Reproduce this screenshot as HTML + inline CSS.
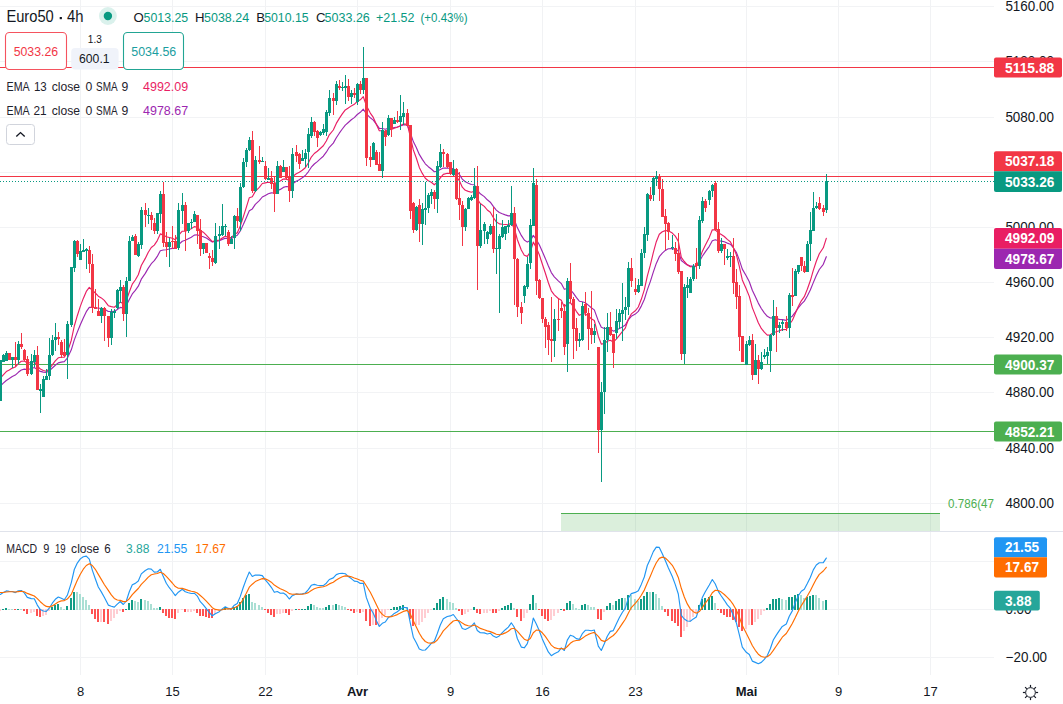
<!DOCTYPE html>
<html><head><meta charset="utf-8"><title>Euro50 4h</title>
<style>html,body{margin:0;padding:0;background:#fff;}body{width:1063px;height:704px;overflow:hidden;position:relative;font-family:"Liberation Sans",sans-serif;}</style>
</head><body>
<svg width="1063" height="704" viewBox="0 0 1063 704" style="position:absolute;left:0;top:0;display:block">
<rect x="0" y="0" width="1063" height="704" fill="#ffffff" />
<g shape-rendering="crispEdges">
<rect x="80" y="0" width="1" height="675" fill="#f1f2f4" />
<rect x="172" y="0" width="1" height="675" fill="#f1f2f4" />
<rect x="265" y="0" width="1" height="675" fill="#f1f2f4" />
<rect x="357" y="0" width="1" height="675" fill="#f1f2f4" />
<rect x="450" y="0" width="1" height="675" fill="#f1f2f4" />
<rect x="542" y="0" width="1" height="675" fill="#f1f2f4" />
<rect x="635" y="0" width="1" height="675" fill="#f1f2f4" />
<rect x="746" y="0" width="1" height="675" fill="#f1f2f4" />
<rect x="838" y="0" width="1" height="675" fill="#f1f2f4" />
<rect x="930" y="0" width="1" height="675" fill="#f1f2f4" />
<rect x="0" y="6" width="994" height="1" fill="#f2f3f5" />
<rect x="0" y="61" width="994" height="1" fill="#f2f3f5" />
<rect x="0" y="117" width="994" height="1" fill="#f2f3f5" />
<rect x="0" y="172" width="994" height="1" fill="#f2f3f5" />
<rect x="0" y="227" width="994" height="1" fill="#f2f3f5" />
<rect x="0" y="282" width="994" height="1" fill="#f2f3f5" />
<rect x="0" y="337" width="994" height="1" fill="#f2f3f5" />
<rect x="0" y="392" width="994" height="1" fill="#f2f3f5" />
<rect x="0" y="448" width="994" height="1" fill="#f2f3f5" />
<rect x="0" y="503" width="994" height="1" fill="#f2f3f5" />
<rect x="0" y="561" width="994" height="1" fill="#f2f3f5" />
<rect x="0" y="609" width="994" height="1" fill="#f2f3f5" />
<rect x="0" y="657" width="994" height="1" fill="#f2f3f5" />
</g>
<g shape-rendering="crispEdges">
<rect x="561" y="514" width="379" height="17" fill="#4caf50" fill-opacity="0.2"/>
<rect x="561" y="513" width="379" height="1" fill="#4caf50" />
<rect x="0" y="67" width="994" height="1" fill="#f23645" />
<rect x="0" y="176" width="994" height="1" fill="#f23645" />
<rect x="0" y="364" width="994" height="1" fill="#4caf50" />
<rect x="0" y="431" width="994" height="1" fill="#4caf50" />
</g>
<polyline points="0.3,386.0 3.3,383.2 6.3,380.5 9.3,378.6 12.3,376.6 15.3,375.1 18.3,372.3 21.3,370.0 24.3,369.1 27.3,369.5 31.3,368.7 34.3,367.5 37.3,369.6 40.3,371.4 43.3,372.1 46.3,372.4 49.3,370.8 52.3,368.0 55.3,365.3 58.3,362.9 61.3,362.1 64.3,361.6 67.3,358.2 71.3,349.8 74.3,339.9 77.3,332.1 80.3,324.7 83.3,318.0 86.3,311.7 89.3,307.4 92.3,307.4 95.3,307.5 98.3,308.3 101.3,308.2 104.3,308.9 108.3,311.5 111.3,311.5 114.3,311.4 117.3,309.5 120.3,307.4 123.3,308.0 126.3,305.5 129.3,299.6 132.3,293.9 135.3,290.4 138.3,286.2 141.3,279.2 145.3,273.4 148.3,268.1 151.3,263.7 154.3,260.7 157.3,256.4 160.3,250.7 163.3,250.0 166.3,249.7 169.3,249.0 172.3,248.4 175.3,248.4 178.3,244.9 182.3,241.3 185.3,240.3 188.3,238.7 191.3,237.2 194.3,235.1 197.3,234.7 200.3,236.0 203.3,236.7 206.3,238.1 209.3,239.9 212.3,241.9 215.3,241.4 219.3,240.7 222.3,239.4 225.3,238.2 228.3,238.7 231.3,238.8 234.3,236.7 237.3,235.3 240.3,230.9 243.3,224.6 246.3,217.8 249.3,210.7 252.3,208.9 255.3,204.4 259.3,200.6 262.3,197.0 265.3,195.4 268.3,193.8 271.3,192.9 274.3,193.0 277.3,190.6 280.3,189.4 283.3,187.4 286.3,186.5 289.3,186.9 292.3,183.9 296.3,181.3 299.3,179.8 302.3,177.8 305.3,175.5 308.3,171.8 311.3,167.2 314.3,164.0 317.3,161.6 320.3,158.9 323.3,156.2 326.3,152.2 329.3,147.3 333.3,143.1 336.3,137.7 339.3,133.2 342.3,129.0 345.3,125.1 348.3,122.5 351.3,119.8 354.3,117.6 357.3,114.5 360.3,112.3 363.3,109.2 366.3,113.6 370.3,117.8 373.3,120.1 376.3,124.1 379.3,128.4 382.3,128.5 385.3,129.2 388.3,128.2 391.3,128.3 394.3,127.5 397.3,127.0 400.3,126.0 403.3,124.9 407.3,124.9 410.3,132.8 413.3,141.6 416.3,147.5 419.3,154.4 422.3,159.4 425.3,163.8 428.3,166.7 431.3,169.0 434.3,171.7 437.3,171.2 440.3,169.5 443.3,168.1 447.3,168.0 450.3,168.5 453.3,168.6 456.3,171.3 459.3,174.4 462.3,179.1 465.3,181.8 468.3,183.3 471.3,184.5 474.3,184.7 477.3,190.2 480.3,193.8 484.3,196.6 487.3,199.8 490.3,202.2 493.3,206.4 496.3,210.1 499.3,212.5 502.3,213.8 505.3,214.9 508.3,215.9 511.3,215.6 514.3,219.6 517.3,227.6 521.3,235.4 524.3,240.0 527.3,242.1 530.3,240.6 533.3,235.4 536.3,239.5 539.3,244.8 542.3,251.5 545.3,258.4 548.3,265.8 551.3,272.6 554.3,276.8 558.3,280.8 561.3,283.6 564.3,289.3 567.3,288.5 570.3,289.5 573.3,293.1 576.3,297.4 579.3,301.2 582.3,301.7 585.3,302.7 588.3,305.1 591.3,307.8 594.3,309.9 598.3,320.9 601.3,327.3 604.3,328.5 607.3,328.4 610.3,329.0 613.3,331.1 616.3,330.2 619.3,328.6 622.3,326.9 625.3,325.1 628.3,319.9 631.3,316.3 635.3,314.1 638.3,311.4 641.3,306.1 644.3,299.5 647.3,289.9 650.3,281.6 653.3,272.2 656.3,263.4 659.3,256.7 662.3,253.1 665.3,250.4 668.3,248.7 672.3,248.6 675.3,249.1 678.3,251.1 681.3,260.5 684.3,262.9 687.3,264.9 690.3,266.1 693.3,266.1 696.3,266.0 699.3,261.8 702.3,256.3 705.3,251.9 709.3,246.3 712.3,240.7 715.3,239.7 718.3,240.7 721.3,241.1 724.3,241.8 727.3,243.1 730.3,244.2 733.3,247.7 736.3,252.2 739.3,259.9 742.3,269.1 746.3,276.0 749.3,281.8 752.3,290.2 755.3,296.6 758.3,303.1 761.3,308.5 764.3,312.8 767.3,316.3 770.3,318.0 773.3,317.9 776.3,318.8 779.3,319.4 782.3,319.6 786.3,320.4 789.3,318.1 792.3,316.2 795.3,312.1 798.3,307.8 801.3,304.1 804.3,301.1 807.3,296.0 810.3,290.0 813.3,282.6 816.3,275.6 819.3,269.5 823.3,264.3 826.3,256.7" fill="none" stroke="#9c27b0" stroke-width="1.15" stroke-linejoin="round" stroke-linecap="round"/>
<polyline points="0.3,378.0 3.3,374.8 6.3,371.6 9.3,370.0 12.3,368.1 15.3,367.0 18.3,363.6 21.3,361.3 24.3,361.1 27.3,363.0 31.3,362.6 34.3,361.6 37.3,365.7 40.3,369.1 43.3,370.5 46.3,371.2 49.3,369.0 52.3,364.8 55.3,360.9 58.3,357.8 61.3,357.3 64.3,357.1 67.3,352.4 71.3,340.2 74.3,326.0 77.3,315.7 80.3,306.4 83.3,298.4 86.3,291.4 89.3,287.4 92.3,290.3 95.3,293.0 98.3,296.2 101.3,297.9 104.3,300.4 108.3,305.7 111.3,306.6 114.3,307.2 117.3,304.7 120.3,302.1 123.3,303.8 126.3,300.5 129.3,292.0 132.3,284.1 135.3,280.0 138.3,274.8 141.3,265.5 145.3,258.4 148.3,252.2 151.3,247.5 154.3,245.1 157.3,240.6 160.3,233.9 163.3,235.1 166.3,236.8 169.3,237.5 172.3,238.3 175.3,239.8 178.3,235.5 182.3,231.2 185.3,231.1 188.3,229.9 191.3,228.7 194.3,226.6 197.3,227.2 200.3,230.4 203.3,232.2 206.3,235.1 209.3,238.3 212.3,241.6 215.3,240.9 219.3,240.0 222.3,238.0 225.3,236.3 228.3,237.4 231.3,237.6 234.3,234.6 237.3,232.7 240.3,226.1 243.3,216.9 246.3,207.4 249.3,197.7 252.3,196.7 255.3,191.4 259.3,187.3 262.3,183.5 265.3,182.9 268.3,182.3 271.3,182.5 274.3,184.1 277.3,181.6 280.3,181.0 283.3,179.1 286.3,178.9 289.3,180.6 292.3,176.8 296.3,173.7 299.3,172.3 302.3,170.3 305.3,167.8 308.3,163.0 311.3,157.1 314.3,153.5 317.3,151.2 320.3,148.5 323.3,145.8 326.3,141.0 329.3,134.8 333.3,130.0 336.3,123.4 339.3,118.4 342.3,113.9 345.3,109.9 348.3,108.0 351.3,105.9 354.3,104.3 357.3,101.4 360.3,99.8 363.3,96.7 366.3,105.4 370.3,113.1 373.3,117.4 376.3,124.2 379.3,130.8 382.3,130.7 385.3,131.5 388.3,129.6 391.3,129.5 394.3,128.2 397.3,127.3 400.3,125.7 403.3,123.9 407.3,124.2 410.3,136.5 413.3,149.9 416.3,158.0 419.3,167.4 422.3,173.4 425.3,178.3 428.3,180.7 431.3,182.3 434.3,184.8 437.3,182.1 440.3,177.8 443.3,174.4 447.3,173.3 450.3,173.5 453.3,172.8 456.3,176.5 459.3,180.6 462.3,187.2 465.3,190.3 468.3,191.4 471.3,192.2 474.3,191.3 477.3,199.1 480.3,203.5 484.3,206.4 487.3,210.0 490.3,212.3 493.3,217.5 496.3,221.8 499.3,223.9 502.3,224.3 505.3,224.5 508.3,224.7 511.3,223.1 514.3,228.1 517.3,239.5 521.3,250.0 524.3,255.2 527.3,256.4 530.3,252.0 533.3,242.1 536.3,247.6 539.3,254.7 542.3,264.0 545.3,273.0 548.3,282.5 551.3,290.8 554.3,294.8 558.3,298.5 561.3,300.3 564.3,307.0 567.3,303.3 570.3,302.6 573.3,306.4 576.3,311.3 579.3,315.3 582.3,314.0 585.3,313.9 588.3,316.0 591.3,318.7 594.3,320.5 598.3,336.2 601.3,344.1 604.3,343.5 607.3,341.2 610.3,340.3 613.3,342.1 616.3,339.1 619.3,335.3 622.3,331.7 625.3,328.1 628.3,319.5 631.3,313.9 635.3,310.8 638.3,307.0 641.3,299.3 644.3,289.9 647.3,276.2 650.3,265.2 653.3,252.7 656.3,241.7 659.3,234.3 662.3,231.8 665.3,230.6 668.3,230.8 672.3,233.1 675.3,236.1 678.3,241.2 681.3,257.3 684.3,261.5 687.3,264.8 690.3,266.8 693.3,266.6 696.3,266.5 699.3,259.8 702.3,251.4 705.3,245.2 709.3,237.4 712.3,229.8 715.3,229.8 718.3,232.8 721.3,234.5 724.3,236.5 727.3,239.4 730.3,241.7 733.3,247.5 736.3,254.6 739.3,266.3 742.3,279.9 746.3,289.1 749.3,296.4 752.3,307.6 755.3,315.1 758.3,322.7 761.3,328.4 764.3,332.2 767.3,335.1 770.3,335.0 773.3,332.4 776.3,331.7 779.3,330.8 782.3,329.6 786.3,329.4 789.3,324.5 792.3,320.5 795.3,313.5 798.3,306.6 801.3,300.8 804.3,296.7 807.3,289.2 810.3,280.8 813.3,270.4 816.3,261.3 819.3,253.8 823.3,247.8 826.3,238.3" fill="none" stroke="#e91e63" stroke-width="1.15" stroke-linejoin="round" stroke-linecap="round"/>
<g shape-rendering="crispEdges">
<rect x="0" y="360" width="1" height="41" fill="#089981" />
<rect x="-1" y="360" width="3" height="41" fill="#089981" />
<rect x="3" y="354" width="1" height="8" fill="#089981" />
<rect x="2" y="355" width="3" height="7" fill="#089981" />
<rect x="6" y="351" width="1" height="10" fill="#089981" />
<rect x="5" y="353" width="3" height="8" fill="#089981" />
<rect x="9" y="353" width="1" height="7" fill="#f23645" />
<rect x="8" y="353" width="3" height="7" fill="#f23645" />
<rect x="12" y="357" width="1" height="11" fill="#089981" />
<rect x="11" y="357" width="3" height="3" fill="#089981" />
<rect x="15" y="342" width="1" height="24" fill="#f23645" />
<rect x="14" y="357" width="3" height="3" fill="#f23645" />
<rect x="18" y="341" width="1" height="23" fill="#089981" />
<rect x="17" y="344" width="3" height="16" fill="#089981" />
<rect x="21" y="333" width="1" height="16" fill="#f23645" />
<rect x="20" y="344" width="3" height="3" fill="#f23645" />
<rect x="24" y="349" width="1" height="12" fill="#f23645" />
<rect x="23" y="350" width="3" height="10" fill="#f23645" />
<rect x="27" y="356" width="1" height="20" fill="#f23645" />
<rect x="26" y="359" width="3" height="15" fill="#f23645" />
<rect x="31" y="354" width="1" height="21" fill="#089981" />
<rect x="30" y="361" width="3" height="13" fill="#089981" />
<rect x="34" y="350" width="1" height="17" fill="#089981" />
<rect x="33" y="355" width="3" height="7" fill="#089981" />
<rect x="37" y="346" width="1" height="44" fill="#f23645" />
<rect x="36" y="355" width="3" height="35" fill="#f23645" />
<rect x="40" y="384" width="1" height="29" fill="#089981" />
<rect x="39" y="389" width="3" height="2" fill="#089981" />
<rect x="43" y="376" width="1" height="21" fill="#089981" />
<rect x="42" y="379" width="3" height="18" fill="#089981" />
<rect x="46" y="369" width="1" height="11" fill="#089981" />
<rect x="45" y="376" width="3" height="4" fill="#089981" />
<rect x="49" y="338" width="1" height="42" fill="#089981" />
<rect x="48" y="355" width="3" height="21" fill="#089981" />
<rect x="52" y="335" width="1" height="21" fill="#089981" />
<rect x="51" y="340" width="3" height="15" fill="#089981" />
<rect x="55" y="323" width="1" height="28" fill="#089981" />
<rect x="54" y="337" width="3" height="3" fill="#089981" />
<rect x="58" y="332" width="1" height="13" fill="#f23645" />
<rect x="57" y="337" width="3" height="2" fill="#f23645" />
<rect x="61" y="340" width="1" height="18" fill="#f23645" />
<rect x="60" y="342" width="3" height="13" fill="#f23645" />
<rect x="64" y="339" width="1" height="17" fill="#f23645" />
<rect x="63" y="352" width="3" height="4" fill="#f23645" />
<rect x="67" y="321" width="1" height="58" fill="#089981" />
<rect x="66" y="324" width="3" height="31" fill="#089981" />
<rect x="71" y="267" width="1" height="60" fill="#089981" />
<rect x="70" y="267" width="3" height="58" fill="#089981" />
<rect x="74" y="240" width="1" height="32" fill="#089981" />
<rect x="73" y="241" width="3" height="27" fill="#089981" />
<rect x="77" y="240" width="1" height="17" fill="#f23645" />
<rect x="76" y="241" width="3" height="13" fill="#f23645" />
<rect x="80" y="244" width="1" height="16" fill="#089981" />
<rect x="79" y="251" width="3" height="9" fill="#089981" />
<rect x="83" y="239" width="1" height="13" fill="#089981" />
<rect x="82" y="250" width="3" height="2" fill="#089981" />
<rect x="86" y="248" width="1" height="21" fill="#089981" />
<rect x="85" y="249" width="3" height="2" fill="#089981" />
<rect x="89" y="246" width="1" height="27" fill="#f23645" />
<rect x="88" y="250" width="3" height="14" fill="#f23645" />
<rect x="92" y="254" width="1" height="59" fill="#f23645" />
<rect x="91" y="264" width="3" height="44" fill="#f23645" />
<rect x="95" y="289" width="1" height="20" fill="#f23645" />
<rect x="94" y="307" width="3" height="2" fill="#f23645" />
<rect x="98" y="299" width="1" height="17" fill="#f23645" />
<rect x="97" y="311" width="3" height="5" fill="#f23645" />
<rect x="101" y="307" width="1" height="16" fill="#089981" />
<rect x="100" y="308" width="3" height="8" fill="#089981" />
<rect x="104" y="307" width="1" height="34" fill="#f23645" />
<rect x="103" y="308" width="3" height="8" fill="#f23645" />
<rect x="108" y="316" width="1" height="31" fill="#f23645" />
<rect x="107" y="316" width="3" height="22" fill="#f23645" />
<rect x="111" y="309" width="1" height="36" fill="#089981" />
<rect x="110" y="312" width="3" height="26" fill="#089981" />
<rect x="114" y="309" width="1" height="9" fill="#089981" />
<rect x="113" y="311" width="3" height="2" fill="#089981" />
<rect x="117" y="289" width="1" height="20" fill="#089981" />
<rect x="116" y="290" width="3" height="18" fill="#089981" />
<rect x="120" y="280" width="1" height="23" fill="#089981" />
<rect x="119" y="287" width="3" height="4" fill="#089981" />
<rect x="123" y="285" width="1" height="36" fill="#f23645" />
<rect x="122" y="287" width="3" height="27" fill="#f23645" />
<rect x="126" y="277" width="1" height="60" fill="#089981" />
<rect x="125" y="281" width="3" height="33" fill="#089981" />
<rect x="129" y="236" width="1" height="45" fill="#089981" />
<rect x="128" y="241" width="3" height="40" fill="#089981" />
<rect x="132" y="235" width="1" height="6" fill="#089981" />
<rect x="131" y="237" width="3" height="4" fill="#089981" />
<rect x="135" y="234" width="1" height="21" fill="#f23645" />
<rect x="134" y="236" width="3" height="19" fill="#f23645" />
<rect x="138" y="242" width="1" height="15" fill="#089981" />
<rect x="137" y="244" width="3" height="12" fill="#089981" />
<rect x="141" y="207" width="1" height="42" fill="#089981" />
<rect x="140" y="210" width="3" height="35" fill="#089981" />
<rect x="145" y="203" width="1" height="24" fill="#f23645" />
<rect x="144" y="210" width="3" height="5" fill="#f23645" />
<rect x="148" y="208" width="1" height="16" fill="#089981" />
<rect x="147" y="215" width="3" height="1" fill="#089981" />
<rect x="151" y="212" width="1" height="18" fill="#f23645" />
<rect x="150" y="215" width="3" height="5" fill="#f23645" />
<rect x="154" y="218" width="1" height="16" fill="#f23645" />
<rect x="153" y="223" width="3" height="8" fill="#f23645" />
<rect x="157" y="213" width="1" height="21" fill="#089981" />
<rect x="156" y="213" width="3" height="18" fill="#089981" />
<rect x="160" y="191" width="1" height="32" fill="#089981" />
<rect x="159" y="194" width="3" height="20" fill="#089981" />
<rect x="163" y="182" width="1" height="65" fill="#f23645" />
<rect x="162" y="194" width="3" height="49" fill="#f23645" />
<rect x="166" y="232" width="1" height="25" fill="#f23645" />
<rect x="165" y="242" width="3" height="5" fill="#f23645" />
<rect x="169" y="238" width="1" height="29" fill="#089981" />
<rect x="168" y="242" width="3" height="5" fill="#089981" />
<rect x="172" y="226" width="1" height="23" fill="#f23645" />
<rect x="171" y="241" width="3" height="1" fill="#f23645" />
<rect x="175" y="235" width="1" height="14" fill="#f23645" />
<rect x="174" y="241" width="3" height="8" fill="#f23645" />
<rect x="178" y="203" width="1" height="47" fill="#089981" />
<rect x="177" y="210" width="3" height="38" fill="#089981" />
<rect x="182" y="193" width="1" height="31" fill="#089981" />
<rect x="181" y="205" width="3" height="6" fill="#089981" />
<rect x="185" y="202" width="1" height="49" fill="#f23645" />
<rect x="184" y="205" width="3" height="26" fill="#f23645" />
<rect x="188" y="223" width="1" height="10" fill="#089981" />
<rect x="187" y="223" width="3" height="8" fill="#089981" />
<rect x="191" y="219" width="1" height="10" fill="#089981" />
<rect x="190" y="222" width="3" height="1" fill="#089981" />
<rect x="194" y="211" width="1" height="11" fill="#089981" />
<rect x="193" y="214" width="3" height="8" fill="#089981" />
<rect x="197" y="215" width="1" height="29" fill="#f23645" />
<rect x="196" y="215" width="3" height="16" fill="#f23645" />
<rect x="200" y="219" width="1" height="37" fill="#f23645" />
<rect x="199" y="230" width="3" height="19" fill="#f23645" />
<rect x="203" y="243" width="1" height="11" fill="#089981" />
<rect x="202" y="243" width="3" height="6" fill="#089981" />
<rect x="206" y="243" width="1" height="10" fill="#f23645" />
<rect x="205" y="243" width="3" height="10" fill="#f23645" />
<rect x="209" y="253" width="1" height="16" fill="#f23645" />
<rect x="208" y="256" width="3" height="2" fill="#f23645" />
<rect x="212" y="250" width="1" height="16" fill="#f23645" />
<rect x="211" y="258" width="3" height="4" fill="#f23645" />
<rect x="215" y="223" width="1" height="41" fill="#089981" />
<rect x="214" y="236" width="3" height="27" fill="#089981" />
<rect x="219" y="226" width="1" height="23" fill="#089981" />
<rect x="218" y="234" width="3" height="2" fill="#089981" />
<rect x="222" y="204" width="1" height="32" fill="#089981" />
<rect x="221" y="226" width="3" height="9" fill="#089981" />
<rect x="225" y="224" width="1" height="12" fill="#089981" />
<rect x="224" y="226" width="3" height="1" fill="#089981" />
<rect x="228" y="230" width="1" height="16" fill="#f23645" />
<rect x="227" y="232" width="3" height="12" fill="#f23645" />
<rect x="231" y="236" width="1" height="8" fill="#089981" />
<rect x="230" y="239" width="3" height="5" fill="#089981" />
<rect x="234" y="215" width="1" height="34" fill="#089981" />
<rect x="233" y="216" width="3" height="22" fill="#089981" />
<rect x="237" y="208" width="1" height="20" fill="#f23645" />
<rect x="236" y="216" width="3" height="5" fill="#f23645" />
<rect x="240" y="183" width="1" height="48" fill="#089981" />
<rect x="239" y="187" width="3" height="35" fill="#089981" />
<rect x="243" y="158" width="1" height="30" fill="#089981" />
<rect x="242" y="162" width="3" height="25" fill="#089981" />
<rect x="246" y="148" width="1" height="19" fill="#089981" />
<rect x="245" y="150" width="3" height="12" fill="#089981" />
<rect x="249" y="137" width="1" height="14" fill="#089981" />
<rect x="248" y="140" width="3" height="10" fill="#089981" />
<rect x="252" y="131" width="1" height="62" fill="#f23645" />
<rect x="251" y="140" width="3" height="51" fill="#f23645" />
<rect x="255" y="156" width="1" height="36" fill="#089981" />
<rect x="254" y="160" width="3" height="31" fill="#089981" />
<rect x="259" y="146" width="1" height="18" fill="#f23645" />
<rect x="258" y="160" width="3" height="2" fill="#f23645" />
<rect x="262" y="157" width="1" height="5" fill="#089981" />
<rect x="261" y="161" width="3" height="1" fill="#089981" />
<rect x="265" y="161" width="1" height="19" fill="#f23645" />
<rect x="264" y="166" width="3" height="13" fill="#f23645" />
<rect x="268" y="168" width="1" height="12" fill="#089981" />
<rect x="267" y="178" width="3" height="2" fill="#089981" />
<rect x="271" y="171" width="1" height="18" fill="#f23645" />
<rect x="270" y="178" width="3" height="6" fill="#f23645" />
<rect x="274" y="176" width="1" height="36" fill="#f23645" />
<rect x="273" y="183" width="3" height="11" fill="#f23645" />
<rect x="277" y="161" width="1" height="33" fill="#089981" />
<rect x="276" y="166" width="3" height="28" fill="#089981" />
<rect x="280" y="165" width="1" height="13" fill="#f23645" />
<rect x="279" y="166" width="3" height="12" fill="#f23645" />
<rect x="283" y="160" width="1" height="12" fill="#089981" />
<rect x="282" y="167" width="3" height="5" fill="#089981" />
<rect x="286" y="167" width="1" height="13" fill="#f23645" />
<rect x="285" y="167" width="3" height="11" fill="#f23645" />
<rect x="289" y="166" width="1" height="36" fill="#f23645" />
<rect x="288" y="176" width="3" height="15" fill="#f23645" />
<rect x="292" y="148" width="1" height="50" fill="#089981" />
<rect x="291" y="154" width="3" height="37" fill="#089981" />
<rect x="296" y="145" width="1" height="17" fill="#f23645" />
<rect x="295" y="152" width="3" height="4" fill="#f23645" />
<rect x="299" y="153" width="1" height="16" fill="#f23645" />
<rect x="298" y="154" width="3" height="10" fill="#f23645" />
<rect x="302" y="150" width="1" height="11" fill="#089981" />
<rect x="301" y="158" width="3" height="3" fill="#089981" />
<rect x="305" y="149" width="1" height="18" fill="#089981" />
<rect x="304" y="153" width="3" height="6" fill="#089981" />
<rect x="308" y="128" width="1" height="40" fill="#089981" />
<rect x="307" y="134" width="3" height="18" fill="#089981" />
<rect x="311" y="117" width="1" height="21" fill="#089981" />
<rect x="310" y="122" width="3" height="14" fill="#089981" />
<rect x="314" y="121" width="1" height="15" fill="#f23645" />
<rect x="313" y="122" width="3" height="10" fill="#f23645" />
<rect x="317" y="130" width="1" height="17" fill="#f23645" />
<rect x="316" y="131" width="3" height="7" fill="#f23645" />
<rect x="320" y="131" width="1" height="5" fill="#089981" />
<rect x="319" y="132" width="3" height="3" fill="#089981" />
<rect x="323" y="124" width="1" height="11" fill="#089981" />
<rect x="322" y="129" width="3" height="4" fill="#089981" />
<rect x="326" y="110" width="1" height="26" fill="#089981" />
<rect x="325" y="112" width="3" height="20" fill="#089981" />
<rect x="329" y="90" width="1" height="26" fill="#089981" />
<rect x="328" y="98" width="3" height="15" fill="#089981" />
<rect x="333" y="93" width="1" height="22" fill="#f23645" />
<rect x="332" y="98" width="3" height="3" fill="#f23645" />
<rect x="336" y="81" width="1" height="24" fill="#089981" />
<rect x="335" y="84" width="3" height="17" fill="#089981" />
<rect x="339" y="80" width="1" height="10" fill="#f23645" />
<rect x="338" y="86" width="3" height="2" fill="#f23645" />
<rect x="342" y="82" width="1" height="9" fill="#089981" />
<rect x="341" y="87" width="3" height="1" fill="#089981" />
<rect x="345" y="75" width="1" height="29" fill="#089981" />
<rect x="344" y="86" width="3" height="2" fill="#089981" />
<rect x="348" y="79" width="1" height="22" fill="#f23645" />
<rect x="347" y="86" width="3" height="11" fill="#f23645" />
<rect x="351" y="90" width="1" height="14" fill="#089981" />
<rect x="350" y="93" width="3" height="4" fill="#089981" />
<rect x="354" y="88" width="1" height="10" fill="#f23645" />
<rect x="353" y="93" width="3" height="2" fill="#f23645" />
<rect x="357" y="83" width="1" height="22" fill="#089981" />
<rect x="356" y="84" width="3" height="18" fill="#089981" />
<rect x="360" y="81" width="1" height="13" fill="#f23645" />
<rect x="359" y="84" width="3" height="6" fill="#f23645" />
<rect x="363" y="47" width="1" height="47" fill="#089981" />
<rect x="362" y="78" width="3" height="12" fill="#089981" />
<rect x="366" y="78" width="1" height="88" fill="#f23645" />
<rect x="365" y="78" width="3" height="80" fill="#f23645" />
<rect x="370" y="146" width="1" height="21" fill="#f23645" />
<rect x="369" y="157" width="3" height="3" fill="#f23645" />
<rect x="373" y="142" width="1" height="18" fill="#089981" />
<rect x="372" y="143" width="3" height="17" fill="#089981" />
<rect x="376" y="150" width="1" height="15" fill="#f23645" />
<rect x="375" y="152" width="3" height="13" fill="#f23645" />
<rect x="379" y="152" width="1" height="19" fill="#f23645" />
<rect x="378" y="164" width="3" height="7" fill="#f23645" />
<rect x="382" y="122" width="1" height="56" fill="#089981" />
<rect x="381" y="130" width="3" height="41" fill="#089981" />
<rect x="385" y="130" width="1" height="16" fill="#f23645" />
<rect x="384" y="131" width="3" height="6" fill="#f23645" />
<rect x="388" y="115" width="1" height="21" fill="#089981" />
<rect x="387" y="118" width="3" height="17" fill="#089981" />
<rect x="391" y="118" width="1" height="19" fill="#f23645" />
<rect x="390" y="118" width="3" height="11" fill="#f23645" />
<rect x="394" y="117" width="1" height="7" fill="#089981" />
<rect x="393" y="120" width="3" height="4" fill="#089981" />
<rect x="397" y="111" width="1" height="12" fill="#f23645" />
<rect x="396" y="120" width="3" height="2" fill="#f23645" />
<rect x="400" y="95" width="1" height="35" fill="#089981" />
<rect x="399" y="116" width="3" height="6" fill="#089981" />
<rect x="403" y="102" width="1" height="23" fill="#089981" />
<rect x="402" y="113" width="3" height="4" fill="#089981" />
<rect x="407" y="109" width="1" height="17" fill="#f23645" />
<rect x="406" y="113" width="3" height="13" fill="#f23645" />
<rect x="410" y="125" width="1" height="94" fill="#f23645" />
<rect x="409" y="125" width="3" height="86" fill="#f23645" />
<rect x="413" y="202" width="1" height="31" fill="#f23645" />
<rect x="412" y="203" width="3" height="27" fill="#f23645" />
<rect x="416" y="206" width="1" height="25" fill="#089981" />
<rect x="415" y="207" width="3" height="23" fill="#089981" />
<rect x="419" y="199" width="1" height="43" fill="#f23645" />
<rect x="418" y="205" width="3" height="19" fill="#f23645" />
<rect x="422" y="203" width="1" height="42" fill="#089981" />
<rect x="421" y="209" width="3" height="15" fill="#089981" />
<rect x="425" y="182" width="1" height="43" fill="#089981" />
<rect x="424" y="208" width="3" height="2" fill="#089981" />
<rect x="428" y="193" width="1" height="20" fill="#089981" />
<rect x="427" y="195" width="3" height="13" fill="#089981" />
<rect x="431" y="189" width="1" height="15" fill="#089981" />
<rect x="430" y="192" width="3" height="4" fill="#089981" />
<rect x="434" y="190" width="1" height="19" fill="#f23645" />
<rect x="433" y="192" width="3" height="7" fill="#f23645" />
<rect x="437" y="161" width="1" height="52" fill="#089981" />
<rect x="436" y="166" width="3" height="33" fill="#089981" />
<rect x="440" y="144" width="1" height="24" fill="#089981" />
<rect x="439" y="152" width="3" height="15" fill="#089981" />
<rect x="443" y="149" width="1" height="18" fill="#f23645" />
<rect x="442" y="152" width="3" height="2" fill="#f23645" />
<rect x="447" y="153" width="1" height="15" fill="#f23645" />
<rect x="446" y="154" width="3" height="13" fill="#f23645" />
<rect x="450" y="162" width="1" height="13" fill="#f23645" />
<rect x="449" y="162" width="3" height="12" fill="#f23645" />
<rect x="453" y="160" width="1" height="16" fill="#089981" />
<rect x="452" y="169" width="3" height="6" fill="#089981" />
<rect x="456" y="168" width="1" height="32" fill="#f23645" />
<rect x="455" y="169" width="3" height="30" fill="#f23645" />
<rect x="459" y="172" width="1" height="48" fill="#f23645" />
<rect x="458" y="198" width="3" height="7" fill="#f23645" />
<rect x="462" y="201" width="1" height="45" fill="#f23645" />
<rect x="461" y="205" width="3" height="22" fill="#f23645" />
<rect x="465" y="208" width="1" height="23" fill="#089981" />
<rect x="464" y="209" width="3" height="18" fill="#089981" />
<rect x="468" y="197" width="1" height="12" fill="#089981" />
<rect x="467" y="198" width="3" height="11" fill="#089981" />
<rect x="471" y="195" width="1" height="6" fill="#089981" />
<rect x="470" y="197" width="3" height="3" fill="#089981" />
<rect x="474" y="168" width="1" height="31" fill="#089981" />
<rect x="473" y="186" width="3" height="12" fill="#089981" />
<rect x="477" y="166" width="1" height="124" fill="#f23645" />
<rect x="476" y="186" width="3" height="60" fill="#f23645" />
<rect x="480" y="204" width="1" height="44" fill="#089981" />
<rect x="479" y="230" width="3" height="16" fill="#089981" />
<rect x="484" y="222" width="1" height="22" fill="#089981" />
<rect x="483" y="224" width="3" height="7" fill="#089981" />
<rect x="487" y="231" width="1" height="13" fill="#089981" />
<rect x="486" y="232" width="3" height="7" fill="#089981" />
<rect x="490" y="224" width="1" height="11" fill="#089981" />
<rect x="489" y="226" width="3" height="8" fill="#089981" />
<rect x="493" y="207" width="1" height="46" fill="#f23645" />
<rect x="492" y="226" width="3" height="23" fill="#f23645" />
<rect x="496" y="214" width="1" height="60" fill="#089981" />
<rect x="495" y="248" width="3" height="1" fill="#089981" />
<rect x="499" y="234" width="1" height="79" fill="#089981" />
<rect x="498" y="236" width="3" height="13" fill="#089981" />
<rect x="502" y="220" width="1" height="18" fill="#089981" />
<rect x="501" y="227" width="3" height="10" fill="#089981" />
<rect x="505" y="226" width="1" height="14" fill="#089981" />
<rect x="504" y="226" width="3" height="8" fill="#089981" />
<rect x="508" y="220" width="1" height="13" fill="#089981" />
<rect x="507" y="225" width="3" height="2" fill="#089981" />
<rect x="511" y="186" width="1" height="40" fill="#089981" />
<rect x="510" y="213" width="3" height="12" fill="#089981" />
<rect x="514" y="207" width="1" height="98" fill="#f23645" />
<rect x="513" y="213" width="3" height="46" fill="#f23645" />
<rect x="517" y="258" width="1" height="59" fill="#f23645" />
<rect x="516" y="259" width="3" height="48" fill="#f23645" />
<rect x="521" y="302" width="1" height="22" fill="#f23645" />
<rect x="520" y="307" width="3" height="6" fill="#f23645" />
<rect x="524" y="285" width="1" height="18" fill="#089981" />
<rect x="523" y="286" width="3" height="10" fill="#089981" />
<rect x="527" y="257" width="1" height="32" fill="#089981" />
<rect x="526" y="264" width="3" height="23" fill="#089981" />
<rect x="530" y="219" width="1" height="50" fill="#089981" />
<rect x="529" y="225" width="3" height="38" fill="#089981" />
<rect x="533" y="168" width="1" height="58" fill="#089981" />
<rect x="532" y="183" width="3" height="43" fill="#089981" />
<rect x="536" y="179" width="1" height="116" fill="#f23645" />
<rect x="535" y="185" width="3" height="96" fill="#f23645" />
<rect x="539" y="279" width="1" height="20" fill="#f23645" />
<rect x="538" y="280" width="3" height="18" fill="#f23645" />
<rect x="542" y="298" width="1" height="25" fill="#f23645" />
<rect x="541" y="298" width="3" height="21" fill="#f23645" />
<rect x="545" y="317" width="1" height="31" fill="#f23645" />
<rect x="544" y="319" width="3" height="8" fill="#f23645" />
<rect x="548" y="322" width="1" height="33" fill="#f23645" />
<rect x="547" y="325" width="3" height="15" fill="#f23645" />
<rect x="551" y="297" width="1" height="65" fill="#f23645" />
<rect x="550" y="339" width="3" height="2" fill="#f23645" />
<rect x="554" y="309" width="1" height="48" fill="#089981" />
<rect x="553" y="319" width="3" height="22" fill="#089981" />
<rect x="558" y="298" width="1" height="33" fill="#f23645" />
<rect x="557" y="319" width="3" height="1" fill="#f23645" />
<rect x="561" y="302" width="1" height="16" fill="#f23645" />
<rect x="560" y="308" width="3" height="3" fill="#f23645" />
<rect x="564" y="304" width="1" height="51" fill="#f23645" />
<rect x="563" y="311" width="3" height="36" fill="#f23645" />
<rect x="567" y="278" width="1" height="94" fill="#089981" />
<rect x="566" y="281" width="3" height="63" fill="#089981" />
<rect x="570" y="263" width="1" height="40" fill="#f23645" />
<rect x="569" y="281" width="3" height="18" fill="#f23645" />
<rect x="573" y="297" width="1" height="62" fill="#f23645" />
<rect x="572" y="299" width="3" height="30" fill="#f23645" />
<rect x="576" y="318" width="1" height="33" fill="#f23645" />
<rect x="575" y="328" width="3" height="13" fill="#f23645" />
<rect x="579" y="333" width="1" height="14" fill="#089981" />
<rect x="578" y="339" width="3" height="2" fill="#089981" />
<rect x="582" y="302" width="1" height="39" fill="#089981" />
<rect x="581" y="306" width="3" height="34" fill="#089981" />
<rect x="585" y="292" width="1" height="24" fill="#f23645" />
<rect x="584" y="304" width="3" height="9" fill="#f23645" />
<rect x="588" y="308" width="1" height="42" fill="#f23645" />
<rect x="587" y="313" width="3" height="16" fill="#f23645" />
<rect x="591" y="291" width="1" height="53" fill="#f23645" />
<rect x="590" y="328" width="3" height="7" fill="#f23645" />
<rect x="594" y="324" width="1" height="19" fill="#089981" />
<rect x="593" y="331" width="3" height="4" fill="#089981" />
<rect x="598" y="347" width="1" height="106" fill="#f23645" />
<rect x="597" y="347" width="3" height="83" fill="#f23645" />
<rect x="601" y="382" width="1" height="100" fill="#089981" />
<rect x="600" y="392" width="3" height="38" fill="#089981" />
<rect x="604" y="327" width="1" height="87" fill="#089981" />
<rect x="603" y="340" width="3" height="52" fill="#089981" />
<rect x="607" y="313" width="1" height="39" fill="#089981" />
<rect x="606" y="327" width="3" height="13" fill="#089981" />
<rect x="610" y="312" width="1" height="24" fill="#f23645" />
<rect x="609" y="327" width="3" height="8" fill="#f23645" />
<rect x="613" y="334" width="1" height="34" fill="#f23645" />
<rect x="612" y="334" width="3" height="19" fill="#f23645" />
<rect x="616" y="309" width="1" height="30" fill="#089981" />
<rect x="615" y="321" width="3" height="12" fill="#089981" />
<rect x="619" y="309" width="1" height="20" fill="#089981" />
<rect x="618" y="313" width="3" height="9" fill="#089981" />
<rect x="622" y="283" width="1" height="58" fill="#089981" />
<rect x="621" y="310" width="3" height="4" fill="#089981" />
<rect x="625" y="297" width="1" height="23" fill="#089981" />
<rect x="624" y="307" width="3" height="3" fill="#089981" />
<rect x="628" y="262" width="1" height="53" fill="#089981" />
<rect x="627" y="268" width="3" height="39" fill="#089981" />
<rect x="631" y="258" width="1" height="29" fill="#f23645" />
<rect x="630" y="268" width="3" height="13" fill="#f23645" />
<rect x="635" y="278" width="1" height="17" fill="#f23645" />
<rect x="634" y="289" width="3" height="3" fill="#f23645" />
<rect x="638" y="279" width="1" height="14" fill="#089981" />
<rect x="637" y="285" width="3" height="7" fill="#089981" />
<rect x="641" y="249" width="1" height="37" fill="#089981" />
<rect x="640" y="253" width="3" height="33" fill="#089981" />
<rect x="644" y="227" width="1" height="31" fill="#089981" />
<rect x="643" y="234" width="3" height="19" fill="#089981" />
<rect x="647" y="193" width="1" height="48" fill="#089981" />
<rect x="646" y="194" width="3" height="41" fill="#089981" />
<rect x="650" y="187" width="1" height="14" fill="#f23645" />
<rect x="649" y="195" width="3" height="4" fill="#f23645" />
<rect x="653" y="177" width="1" height="24" fill="#089981" />
<rect x="652" y="178" width="3" height="17" fill="#089981" />
<rect x="656" y="171" width="1" height="15" fill="#089981" />
<rect x="655" y="176" width="3" height="3" fill="#089981" />
<rect x="659" y="174" width="1" height="27" fill="#f23645" />
<rect x="658" y="176" width="3" height="13" fill="#f23645" />
<rect x="662" y="179" width="1" height="38" fill="#f23645" />
<rect x="661" y="189" width="3" height="28" fill="#f23645" />
<rect x="665" y="209" width="1" height="41" fill="#f23645" />
<rect x="664" y="216" width="3" height="8" fill="#f23645" />
<rect x="668" y="222" width="1" height="18" fill="#f23645" />
<rect x="667" y="223" width="3" height="9" fill="#f23645" />
<rect x="672" y="235" width="1" height="15" fill="#089981" />
<rect x="671" y="247" width="3" height="1" fill="#089981" />
<rect x="675" y="242" width="1" height="19" fill="#f23645" />
<rect x="674" y="248" width="3" height="6" fill="#f23645" />
<rect x="678" y="233" width="1" height="41" fill="#f23645" />
<rect x="677" y="253" width="3" height="19" fill="#f23645" />
<rect x="681" y="271" width="1" height="89" fill="#f23645" />
<rect x="680" y="271" width="3" height="83" fill="#f23645" />
<rect x="684" y="284" width="1" height="80" fill="#089981" />
<rect x="683" y="287" width="3" height="67" fill="#089981" />
<rect x="687" y="277" width="1" height="21" fill="#089981" />
<rect x="686" y="285" width="3" height="3" fill="#089981" />
<rect x="690" y="277" width="1" height="16" fill="#089981" />
<rect x="689" y="279" width="3" height="14" fill="#089981" />
<rect x="693" y="264" width="1" height="17" fill="#089981" />
<rect x="692" y="266" width="3" height="13" fill="#089981" />
<rect x="696" y="248" width="1" height="31" fill="#f23645" />
<rect x="695" y="263" width="3" height="3" fill="#f23645" />
<rect x="699" y="216" width="1" height="53" fill="#089981" />
<rect x="698" y="220" width="3" height="46" fill="#089981" />
<rect x="702" y="197" width="1" height="26" fill="#089981" />
<rect x="701" y="201" width="3" height="20" fill="#089981" />
<rect x="705" y="199" width="1" height="13" fill="#f23645" />
<rect x="704" y="201" width="3" height="7" fill="#f23645" />
<rect x="709" y="190" width="1" height="15" fill="#089981" />
<rect x="708" y="191" width="3" height="9" fill="#089981" />
<rect x="712" y="184" width="1" height="13" fill="#089981" />
<rect x="711" y="185" width="3" height="6" fill="#089981" />
<rect x="715" y="181" width="1" height="50" fill="#f23645" />
<rect x="714" y="183" width="3" height="47" fill="#f23645" />
<rect x="718" y="222" width="1" height="31" fill="#f23645" />
<rect x="717" y="229" width="3" height="22" fill="#f23645" />
<rect x="721" y="238" width="1" height="15" fill="#089981" />
<rect x="720" y="244" width="3" height="7" fill="#089981" />
<rect x="724" y="244" width="1" height="21" fill="#f23645" />
<rect x="723" y="244" width="3" height="5" fill="#f23645" />
<rect x="727" y="249" width="1" height="11" fill="#089981" />
<rect x="726" y="256" width="3" height="2" fill="#089981" />
<rect x="730" y="252" width="1" height="15" fill="#089981" />
<rect x="729" y="256" width="3" height="1" fill="#089981" />
<rect x="733" y="238" width="1" height="56" fill="#f23645" />
<rect x="732" y="256" width="3" height="27" fill="#f23645" />
<rect x="736" y="269" width="1" height="40" fill="#f23645" />
<rect x="735" y="282" width="3" height="15" fill="#f23645" />
<rect x="739" y="285" width="1" height="66" fill="#f23645" />
<rect x="738" y="296" width="3" height="41" fill="#f23645" />
<rect x="742" y="336" width="1" height="26" fill="#f23645" />
<rect x="741" y="336" width="3" height="26" fill="#f23645" />
<rect x="746" y="341" width="1" height="24" fill="#089981" />
<rect x="745" y="344" width="3" height="21" fill="#089981" />
<rect x="749" y="336" width="1" height="10" fill="#089981" />
<rect x="748" y="340" width="3" height="5" fill="#089981" />
<rect x="752" y="334" width="1" height="46" fill="#f23645" />
<rect x="751" y="340" width="3" height="35" fill="#f23645" />
<rect x="755" y="344" width="1" height="31" fill="#089981" />
<rect x="754" y="360" width="3" height="15" fill="#089981" />
<rect x="758" y="355" width="1" height="29" fill="#f23645" />
<rect x="757" y="360" width="3" height="9" fill="#f23645" />
<rect x="761" y="352" width="1" height="18" fill="#089981" />
<rect x="760" y="362" width="3" height="7" fill="#089981" />
<rect x="764" y="349" width="1" height="10" fill="#089981" />
<rect x="763" y="355" width="3" height="2" fill="#089981" />
<rect x="767" y="347" width="1" height="17" fill="#089981" />
<rect x="766" y="352" width="3" height="4" fill="#089981" />
<rect x="770" y="334" width="1" height="38" fill="#089981" />
<rect x="769" y="335" width="3" height="16" fill="#089981" />
<rect x="773" y="300" width="1" height="36" fill="#089981" />
<rect x="772" y="316" width="3" height="19" fill="#089981" />
<rect x="776" y="307" width="1" height="45" fill="#f23645" />
<rect x="775" y="316" width="3" height="12" fill="#f23645" />
<rect x="779" y="322" width="1" height="11" fill="#089981" />
<rect x="778" y="325" width="3" height="3" fill="#089981" />
<rect x="782" y="320" width="1" height="11" fill="#089981" />
<rect x="781" y="322" width="3" height="2" fill="#089981" />
<rect x="786" y="316" width="1" height="15" fill="#f23645" />
<rect x="785" y="322" width="3" height="6" fill="#f23645" />
<rect x="789" y="293" width="1" height="45" fill="#089981" />
<rect x="788" y="295" width="3" height="33" fill="#089981" />
<rect x="792" y="268" width="1" height="38" fill="#f23645" />
<rect x="791" y="295" width="3" height="2" fill="#f23645" />
<rect x="795" y="269" width="1" height="27" fill="#089981" />
<rect x="794" y="271" width="3" height="25" fill="#089981" />
<rect x="798" y="265" width="1" height="9" fill="#089981" />
<rect x="797" y="265" width="3" height="7" fill="#089981" />
<rect x="801" y="257" width="1" height="14" fill="#f23645" />
<rect x="800" y="257" width="3" height="9" fill="#f23645" />
<rect x="804" y="261" width="1" height="12" fill="#f23645" />
<rect x="803" y="266" width="3" height="6" fill="#f23645" />
<rect x="807" y="241" width="1" height="31" fill="#089981" />
<rect x="806" y="244" width="3" height="28" fill="#089981" />
<rect x="810" y="212" width="1" height="49" fill="#089981" />
<rect x="809" y="230" width="3" height="14" fill="#089981" />
<rect x="813" y="192" width="1" height="39" fill="#089981" />
<rect x="812" y="208" width="3" height="23" fill="#089981" />
<rect x="816" y="202" width="1" height="7" fill="#089981" />
<rect x="815" y="206" width="3" height="2" fill="#089981" />
<rect x="819" y="197" width="1" height="13" fill="#f23645" />
<rect x="818" y="203" width="3" height="6" fill="#f23645" />
<rect x="823" y="205" width="1" height="11" fill="#f23645" />
<rect x="822" y="208" width="3" height="4" fill="#f23645" />
<rect x="826" y="174" width="1" height="39" fill="#089981" />
<rect x="825" y="181" width="3" height="29" fill="#089981" />
</g>
<g shape-rendering="crispEdges">
<rect x="0" y="181" width="1" height="1" fill="#089981" />
<rect x="3" y="181" width="1" height="1" fill="#089981" />
<rect x="6" y="181" width="1" height="1" fill="#089981" />
<rect x="9" y="181" width="1" height="1" fill="#089981" />
<rect x="12" y="181" width="1" height="1" fill="#089981" />
<rect x="15" y="181" width="1" height="1" fill="#089981" />
<rect x="18" y="181" width="1" height="1" fill="#089981" />
<rect x="21" y="181" width="1" height="1" fill="#089981" />
<rect x="24" y="181" width="1" height="1" fill="#089981" />
<rect x="27" y="181" width="1" height="1" fill="#089981" />
<rect x="30" y="181" width="1" height="1" fill="#089981" />
<rect x="33" y="181" width="1" height="1" fill="#089981" />
<rect x="36" y="181" width="1" height="1" fill="#089981" />
<rect x="39" y="181" width="1" height="1" fill="#089981" />
<rect x="42" y="181" width="1" height="1" fill="#089981" />
<rect x="45" y="181" width="1" height="1" fill="#089981" />
<rect x="48" y="181" width="1" height="1" fill="#089981" />
<rect x="51" y="181" width="1" height="1" fill="#089981" />
<rect x="54" y="181" width="1" height="1" fill="#089981" />
<rect x="57" y="181" width="1" height="1" fill="#089981" />
<rect x="60" y="181" width="1" height="1" fill="#089981" />
<rect x="63" y="181" width="1" height="1" fill="#089981" />
<rect x="66" y="181" width="1" height="1" fill="#089981" />
<rect x="69" y="181" width="1" height="1" fill="#089981" />
<rect x="72" y="181" width="1" height="1" fill="#089981" />
<rect x="75" y="181" width="1" height="1" fill="#089981" />
<rect x="78" y="181" width="1" height="1" fill="#089981" />
<rect x="81" y="181" width="1" height="1" fill="#089981" />
<rect x="84" y="181" width="1" height="1" fill="#089981" />
<rect x="87" y="181" width="1" height="1" fill="#089981" />
<rect x="90" y="181" width="1" height="1" fill="#089981" />
<rect x="93" y="181" width="1" height="1" fill="#089981" />
<rect x="96" y="181" width="1" height="1" fill="#089981" />
<rect x="99" y="181" width="1" height="1" fill="#089981" />
<rect x="102" y="181" width="1" height="1" fill="#089981" />
<rect x="105" y="181" width="1" height="1" fill="#089981" />
<rect x="108" y="181" width="1" height="1" fill="#089981" />
<rect x="111" y="181" width="1" height="1" fill="#089981" />
<rect x="114" y="181" width="1" height="1" fill="#089981" />
<rect x="117" y="181" width="1" height="1" fill="#089981" />
<rect x="120" y="181" width="1" height="1" fill="#089981" />
<rect x="123" y="181" width="1" height="1" fill="#089981" />
<rect x="126" y="181" width="1" height="1" fill="#089981" />
<rect x="129" y="181" width="1" height="1" fill="#089981" />
<rect x="132" y="181" width="1" height="1" fill="#089981" />
<rect x="135" y="181" width="1" height="1" fill="#089981" />
<rect x="138" y="181" width="1" height="1" fill="#089981" />
<rect x="141" y="181" width="1" height="1" fill="#089981" />
<rect x="144" y="181" width="1" height="1" fill="#089981" />
<rect x="147" y="181" width="1" height="1" fill="#089981" />
<rect x="150" y="181" width="1" height="1" fill="#089981" />
<rect x="153" y="181" width="1" height="1" fill="#089981" />
<rect x="156" y="181" width="1" height="1" fill="#089981" />
<rect x="159" y="181" width="1" height="1" fill="#089981" />
<rect x="162" y="181" width="1" height="1" fill="#089981" />
<rect x="165" y="181" width="1" height="1" fill="#089981" />
<rect x="168" y="181" width="1" height="1" fill="#089981" />
<rect x="171" y="181" width="1" height="1" fill="#089981" />
<rect x="174" y="181" width="1" height="1" fill="#089981" />
<rect x="177" y="181" width="1" height="1" fill="#089981" />
<rect x="180" y="181" width="1" height="1" fill="#089981" />
<rect x="183" y="181" width="1" height="1" fill="#089981" />
<rect x="186" y="181" width="1" height="1" fill="#089981" />
<rect x="189" y="181" width="1" height="1" fill="#089981" />
<rect x="192" y="181" width="1" height="1" fill="#089981" />
<rect x="195" y="181" width="1" height="1" fill="#089981" />
<rect x="198" y="181" width="1" height="1" fill="#089981" />
<rect x="201" y="181" width="1" height="1" fill="#089981" />
<rect x="204" y="181" width="1" height="1" fill="#089981" />
<rect x="207" y="181" width="1" height="1" fill="#089981" />
<rect x="210" y="181" width="1" height="1" fill="#089981" />
<rect x="213" y="181" width="1" height="1" fill="#089981" />
<rect x="216" y="181" width="1" height="1" fill="#089981" />
<rect x="219" y="181" width="1" height="1" fill="#089981" />
<rect x="222" y="181" width="1" height="1" fill="#089981" />
<rect x="225" y="181" width="1" height="1" fill="#089981" />
<rect x="228" y="181" width="1" height="1" fill="#089981" />
<rect x="231" y="181" width="1" height="1" fill="#089981" />
<rect x="234" y="181" width="1" height="1" fill="#089981" />
<rect x="237" y="181" width="1" height="1" fill="#089981" />
<rect x="240" y="181" width="1" height="1" fill="#089981" />
<rect x="243" y="181" width="1" height="1" fill="#089981" />
<rect x="246" y="181" width="1" height="1" fill="#089981" />
<rect x="249" y="181" width="1" height="1" fill="#089981" />
<rect x="252" y="181" width="1" height="1" fill="#089981" />
<rect x="255" y="181" width="1" height="1" fill="#089981" />
<rect x="258" y="181" width="1" height="1" fill="#089981" />
<rect x="261" y="181" width="1" height="1" fill="#089981" />
<rect x="264" y="181" width="1" height="1" fill="#089981" />
<rect x="267" y="181" width="1" height="1" fill="#089981" />
<rect x="270" y="181" width="1" height="1" fill="#089981" />
<rect x="273" y="181" width="1" height="1" fill="#089981" />
<rect x="276" y="181" width="1" height="1" fill="#089981" />
<rect x="279" y="181" width="1" height="1" fill="#089981" />
<rect x="282" y="181" width="1" height="1" fill="#089981" />
<rect x="285" y="181" width="1" height="1" fill="#089981" />
<rect x="288" y="181" width="1" height="1" fill="#089981" />
<rect x="291" y="181" width="1" height="1" fill="#089981" />
<rect x="294" y="181" width="1" height="1" fill="#089981" />
<rect x="297" y="181" width="1" height="1" fill="#089981" />
<rect x="300" y="181" width="1" height="1" fill="#089981" />
<rect x="303" y="181" width="1" height="1" fill="#089981" />
<rect x="306" y="181" width="1" height="1" fill="#089981" />
<rect x="309" y="181" width="1" height="1" fill="#089981" />
<rect x="312" y="181" width="1" height="1" fill="#089981" />
<rect x="315" y="181" width="1" height="1" fill="#089981" />
<rect x="318" y="181" width="1" height="1" fill="#089981" />
<rect x="321" y="181" width="1" height="1" fill="#089981" />
<rect x="324" y="181" width="1" height="1" fill="#089981" />
<rect x="327" y="181" width="1" height="1" fill="#089981" />
<rect x="330" y="181" width="1" height="1" fill="#089981" />
<rect x="333" y="181" width="1" height="1" fill="#089981" />
<rect x="336" y="181" width="1" height="1" fill="#089981" />
<rect x="339" y="181" width="1" height="1" fill="#089981" />
<rect x="342" y="181" width="1" height="1" fill="#089981" />
<rect x="345" y="181" width="1" height="1" fill="#089981" />
<rect x="348" y="181" width="1" height="1" fill="#089981" />
<rect x="351" y="181" width="1" height="1" fill="#089981" />
<rect x="354" y="181" width="1" height="1" fill="#089981" />
<rect x="357" y="181" width="1" height="1" fill="#089981" />
<rect x="360" y="181" width="1" height="1" fill="#089981" />
<rect x="363" y="181" width="1" height="1" fill="#089981" />
<rect x="366" y="181" width="1" height="1" fill="#089981" />
<rect x="369" y="181" width="1" height="1" fill="#089981" />
<rect x="372" y="181" width="1" height="1" fill="#089981" />
<rect x="375" y="181" width="1" height="1" fill="#089981" />
<rect x="378" y="181" width="1" height="1" fill="#089981" />
<rect x="381" y="181" width="1" height="1" fill="#089981" />
<rect x="384" y="181" width="1" height="1" fill="#089981" />
<rect x="387" y="181" width="1" height="1" fill="#089981" />
<rect x="390" y="181" width="1" height="1" fill="#089981" />
<rect x="393" y="181" width="1" height="1" fill="#089981" />
<rect x="396" y="181" width="1" height="1" fill="#089981" />
<rect x="399" y="181" width="1" height="1" fill="#089981" />
<rect x="402" y="181" width="1" height="1" fill="#089981" />
<rect x="405" y="181" width="1" height="1" fill="#089981" />
<rect x="408" y="181" width="1" height="1" fill="#089981" />
<rect x="411" y="181" width="1" height="1" fill="#089981" />
<rect x="414" y="181" width="1" height="1" fill="#089981" />
<rect x="417" y="181" width="1" height="1" fill="#089981" />
<rect x="420" y="181" width="1" height="1" fill="#089981" />
<rect x="423" y="181" width="1" height="1" fill="#089981" />
<rect x="426" y="181" width="1" height="1" fill="#089981" />
<rect x="429" y="181" width="1" height="1" fill="#089981" />
<rect x="432" y="181" width="1" height="1" fill="#089981" />
<rect x="435" y="181" width="1" height="1" fill="#089981" />
<rect x="438" y="181" width="1" height="1" fill="#089981" />
<rect x="441" y="181" width="1" height="1" fill="#089981" />
<rect x="444" y="181" width="1" height="1" fill="#089981" />
<rect x="447" y="181" width="1" height="1" fill="#089981" />
<rect x="450" y="181" width="1" height="1" fill="#089981" />
<rect x="453" y="181" width="1" height="1" fill="#089981" />
<rect x="456" y="181" width="1" height="1" fill="#089981" />
<rect x="459" y="181" width="1" height="1" fill="#089981" />
<rect x="462" y="181" width="1" height="1" fill="#089981" />
<rect x="465" y="181" width="1" height="1" fill="#089981" />
<rect x="468" y="181" width="1" height="1" fill="#089981" />
<rect x="471" y="181" width="1" height="1" fill="#089981" />
<rect x="474" y="181" width="1" height="1" fill="#089981" />
<rect x="477" y="181" width="1" height="1" fill="#089981" />
<rect x="480" y="181" width="1" height="1" fill="#089981" />
<rect x="483" y="181" width="1" height="1" fill="#089981" />
<rect x="486" y="181" width="1" height="1" fill="#089981" />
<rect x="489" y="181" width="1" height="1" fill="#089981" />
<rect x="492" y="181" width="1" height="1" fill="#089981" />
<rect x="495" y="181" width="1" height="1" fill="#089981" />
<rect x="498" y="181" width="1" height="1" fill="#089981" />
<rect x="501" y="181" width="1" height="1" fill="#089981" />
<rect x="504" y="181" width="1" height="1" fill="#089981" />
<rect x="507" y="181" width="1" height="1" fill="#089981" />
<rect x="510" y="181" width="1" height="1" fill="#089981" />
<rect x="513" y="181" width="1" height="1" fill="#089981" />
<rect x="516" y="181" width="1" height="1" fill="#089981" />
<rect x="519" y="181" width="1" height="1" fill="#089981" />
<rect x="522" y="181" width="1" height="1" fill="#089981" />
<rect x="525" y="181" width="1" height="1" fill="#089981" />
<rect x="528" y="181" width="1" height="1" fill="#089981" />
<rect x="531" y="181" width="1" height="1" fill="#089981" />
<rect x="534" y="181" width="1" height="1" fill="#089981" />
<rect x="537" y="181" width="1" height="1" fill="#089981" />
<rect x="540" y="181" width="1" height="1" fill="#089981" />
<rect x="543" y="181" width="1" height="1" fill="#089981" />
<rect x="546" y="181" width="1" height="1" fill="#089981" />
<rect x="549" y="181" width="1" height="1" fill="#089981" />
<rect x="552" y="181" width="1" height="1" fill="#089981" />
<rect x="555" y="181" width="1" height="1" fill="#089981" />
<rect x="558" y="181" width="1" height="1" fill="#089981" />
<rect x="561" y="181" width="1" height="1" fill="#089981" />
<rect x="564" y="181" width="1" height="1" fill="#089981" />
<rect x="567" y="181" width="1" height="1" fill="#089981" />
<rect x="570" y="181" width="1" height="1" fill="#089981" />
<rect x="573" y="181" width="1" height="1" fill="#089981" />
<rect x="576" y="181" width="1" height="1" fill="#089981" />
<rect x="579" y="181" width="1" height="1" fill="#089981" />
<rect x="582" y="181" width="1" height="1" fill="#089981" />
<rect x="585" y="181" width="1" height="1" fill="#089981" />
<rect x="588" y="181" width="1" height="1" fill="#089981" />
<rect x="591" y="181" width="1" height="1" fill="#089981" />
<rect x="594" y="181" width="1" height="1" fill="#089981" />
<rect x="597" y="181" width="1" height="1" fill="#089981" />
<rect x="600" y="181" width="1" height="1" fill="#089981" />
<rect x="603" y="181" width="1" height="1" fill="#089981" />
<rect x="606" y="181" width="1" height="1" fill="#089981" />
<rect x="609" y="181" width="1" height="1" fill="#089981" />
<rect x="612" y="181" width="1" height="1" fill="#089981" />
<rect x="615" y="181" width="1" height="1" fill="#089981" />
<rect x="618" y="181" width="1" height="1" fill="#089981" />
<rect x="621" y="181" width="1" height="1" fill="#089981" />
<rect x="624" y="181" width="1" height="1" fill="#089981" />
<rect x="627" y="181" width="1" height="1" fill="#089981" />
<rect x="630" y="181" width="1" height="1" fill="#089981" />
<rect x="633" y="181" width="1" height="1" fill="#089981" />
<rect x="636" y="181" width="1" height="1" fill="#089981" />
<rect x="639" y="181" width="1" height="1" fill="#089981" />
<rect x="642" y="181" width="1" height="1" fill="#089981" />
<rect x="645" y="181" width="1" height="1" fill="#089981" />
<rect x="648" y="181" width="1" height="1" fill="#089981" />
<rect x="651" y="181" width="1" height="1" fill="#089981" />
<rect x="654" y="181" width="1" height="1" fill="#089981" />
<rect x="657" y="181" width="1" height="1" fill="#089981" />
<rect x="660" y="181" width="1" height="1" fill="#089981" />
<rect x="663" y="181" width="1" height="1" fill="#089981" />
<rect x="666" y="181" width="1" height="1" fill="#089981" />
<rect x="669" y="181" width="1" height="1" fill="#089981" />
<rect x="672" y="181" width="1" height="1" fill="#089981" />
<rect x="675" y="181" width="1" height="1" fill="#089981" />
<rect x="678" y="181" width="1" height="1" fill="#089981" />
<rect x="681" y="181" width="1" height="1" fill="#089981" />
<rect x="684" y="181" width="1" height="1" fill="#089981" />
<rect x="687" y="181" width="1" height="1" fill="#089981" />
<rect x="690" y="181" width="1" height="1" fill="#089981" />
<rect x="693" y="181" width="1" height="1" fill="#089981" />
<rect x="696" y="181" width="1" height="1" fill="#089981" />
<rect x="699" y="181" width="1" height="1" fill="#089981" />
<rect x="702" y="181" width="1" height="1" fill="#089981" />
<rect x="705" y="181" width="1" height="1" fill="#089981" />
<rect x="708" y="181" width="1" height="1" fill="#089981" />
<rect x="711" y="181" width="1" height="1" fill="#089981" />
<rect x="714" y="181" width="1" height="1" fill="#089981" />
<rect x="717" y="181" width="1" height="1" fill="#089981" />
<rect x="720" y="181" width="1" height="1" fill="#089981" />
<rect x="723" y="181" width="1" height="1" fill="#089981" />
<rect x="726" y="181" width="1" height="1" fill="#089981" />
<rect x="729" y="181" width="1" height="1" fill="#089981" />
<rect x="732" y="181" width="1" height="1" fill="#089981" />
<rect x="735" y="181" width="1" height="1" fill="#089981" />
<rect x="738" y="181" width="1" height="1" fill="#089981" />
<rect x="741" y="181" width="1" height="1" fill="#089981" />
<rect x="744" y="181" width="1" height="1" fill="#089981" />
<rect x="747" y="181" width="1" height="1" fill="#089981" />
<rect x="750" y="181" width="1" height="1" fill="#089981" />
<rect x="753" y="181" width="1" height="1" fill="#089981" />
<rect x="756" y="181" width="1" height="1" fill="#089981" />
<rect x="759" y="181" width="1" height="1" fill="#089981" />
<rect x="762" y="181" width="1" height="1" fill="#089981" />
<rect x="765" y="181" width="1" height="1" fill="#089981" />
<rect x="768" y="181" width="1" height="1" fill="#089981" />
<rect x="771" y="181" width="1" height="1" fill="#089981" />
<rect x="774" y="181" width="1" height="1" fill="#089981" />
<rect x="777" y="181" width="1" height="1" fill="#089981" />
<rect x="780" y="181" width="1" height="1" fill="#089981" />
<rect x="783" y="181" width="1" height="1" fill="#089981" />
<rect x="786" y="181" width="1" height="1" fill="#089981" />
<rect x="789" y="181" width="1" height="1" fill="#089981" />
<rect x="792" y="181" width="1" height="1" fill="#089981" />
<rect x="795" y="181" width="1" height="1" fill="#089981" />
<rect x="798" y="181" width="1" height="1" fill="#089981" />
<rect x="801" y="181" width="1" height="1" fill="#089981" />
<rect x="804" y="181" width="1" height="1" fill="#089981" />
<rect x="807" y="181" width="1" height="1" fill="#089981" />
<rect x="810" y="181" width="1" height="1" fill="#089981" />
<rect x="813" y="181" width="1" height="1" fill="#089981" />
<rect x="816" y="181" width="1" height="1" fill="#089981" />
<rect x="819" y="181" width="1" height="1" fill="#089981" />
<rect x="822" y="181" width="1" height="1" fill="#089981" />
<rect x="825" y="181" width="1" height="1" fill="#089981" />
<rect x="828" y="181" width="1" height="1" fill="#089981" />
<rect x="831" y="181" width="1" height="1" fill="#089981" />
<rect x="834" y="181" width="1" height="1" fill="#089981" />
<rect x="837" y="181" width="1" height="1" fill="#089981" />
<rect x="840" y="181" width="1" height="1" fill="#089981" />
<rect x="843" y="181" width="1" height="1" fill="#089981" />
<rect x="846" y="181" width="1" height="1" fill="#089981" />
<rect x="849" y="181" width="1" height="1" fill="#089981" />
<rect x="852" y="181" width="1" height="1" fill="#089981" />
<rect x="855" y="181" width="1" height="1" fill="#089981" />
<rect x="858" y="181" width="1" height="1" fill="#089981" />
<rect x="861" y="181" width="1" height="1" fill="#089981" />
<rect x="864" y="181" width="1" height="1" fill="#089981" />
<rect x="867" y="181" width="1" height="1" fill="#089981" />
<rect x="870" y="181" width="1" height="1" fill="#089981" />
<rect x="873" y="181" width="1" height="1" fill="#089981" />
<rect x="876" y="181" width="1" height="1" fill="#089981" />
<rect x="879" y="181" width="1" height="1" fill="#089981" />
<rect x="882" y="181" width="1" height="1" fill="#089981" />
<rect x="885" y="181" width="1" height="1" fill="#089981" />
<rect x="888" y="181" width="1" height="1" fill="#089981" />
<rect x="891" y="181" width="1" height="1" fill="#089981" />
<rect x="894" y="181" width="1" height="1" fill="#089981" />
<rect x="897" y="181" width="1" height="1" fill="#089981" />
<rect x="900" y="181" width="1" height="1" fill="#089981" />
<rect x="903" y="181" width="1" height="1" fill="#089981" />
<rect x="906" y="181" width="1" height="1" fill="#089981" />
<rect x="909" y="181" width="1" height="1" fill="#089981" />
<rect x="912" y="181" width="1" height="1" fill="#089981" />
<rect x="915" y="181" width="1" height="1" fill="#089981" />
<rect x="918" y="181" width="1" height="1" fill="#089981" />
<rect x="921" y="181" width="1" height="1" fill="#089981" />
<rect x="924" y="181" width="1" height="1" fill="#089981" />
<rect x="927" y="181" width="1" height="1" fill="#089981" />
<rect x="930" y="181" width="1" height="1" fill="#089981" />
<rect x="933" y="181" width="1" height="1" fill="#089981" />
<rect x="936" y="181" width="1" height="1" fill="#089981" />
<rect x="939" y="181" width="1" height="1" fill="#089981" />
<rect x="942" y="181" width="1" height="1" fill="#089981" />
<rect x="945" y="181" width="1" height="1" fill="#089981" />
<rect x="948" y="181" width="1" height="1" fill="#089981" />
<rect x="951" y="181" width="1" height="1" fill="#089981" />
<rect x="954" y="181" width="1" height="1" fill="#089981" />
<rect x="957" y="181" width="1" height="1" fill="#089981" />
<rect x="960" y="181" width="1" height="1" fill="#089981" />
<rect x="963" y="181" width="1" height="1" fill="#089981" />
<rect x="966" y="181" width="1" height="1" fill="#089981" />
<rect x="969" y="181" width="1" height="1" fill="#089981" />
<rect x="972" y="181" width="1" height="1" fill="#089981" />
<rect x="975" y="181" width="1" height="1" fill="#089981" />
<rect x="978" y="181" width="1" height="1" fill="#089981" />
<rect x="981" y="181" width="1" height="1" fill="#089981" />
<rect x="984" y="181" width="1" height="1" fill="#089981" />
<rect x="987" y="181" width="1" height="1" fill="#089981" />
<rect x="990" y="181" width="1" height="1" fill="#089981" />
<rect x="993" y="181" width="1" height="1" fill="#089981" />
</g>
<g shape-rendering="crispEdges">
<rect x="-1" y="609" width="2" height="2" fill="#ffcdd2" />
<rect x="2" y="609" width="2" height="1" fill="#129c86" />
<rect x="5" y="608" width="2" height="2" fill="#129c86" />
<rect x="8" y="609" width="2" height="1" fill="#aadfd4" />
<rect x="11" y="609" width="2" height="1" fill="#aadfd4" />
<rect x="14" y="609" width="2" height="1" fill="#ff5252" />
<rect x="17" y="609" width="2" height="1" fill="#129c86" />
<rect x="20" y="609" width="2" height="1" fill="#aadfd4" />
<rect x="23" y="609" width="2" height="2" fill="#ff5252" />
<rect x="26" y="609" width="2" height="5" fill="#ff5252" />
<rect x="30" y="609" width="2" height="4" fill="#ffcdd2" />
<rect x="33" y="609" width="2" height="3" fill="#ffcdd2" />
<rect x="36" y="609" width="2" height="7" fill="#ff5252" />
<rect x="39" y="609" width="2" height="8" fill="#ff5252" />
<rect x="42" y="609" width="2" height="7" fill="#ffcdd2" />
<rect x="45" y="609" width="2" height="6" fill="#ffcdd2" />
<rect x="48" y="609" width="2" height="2" fill="#ffcdd2" />
<rect x="51" y="607" width="2" height="3" fill="#129c86" />
<rect x="54" y="605" width="2" height="5" fill="#129c86" />
<rect x="57" y="604" width="2" height="6" fill="#129c86" />
<rect x="60" y="607" width="2" height="3" fill="#aadfd4" />
<rect x="63" y="609" width="2" height="1" fill="#aadfd4" />
<rect x="66" y="606" width="2" height="4" fill="#129c86" />
<rect x="70" y="598" width="2" height="12" fill="#129c86" />
<rect x="73" y="592" width="2" height="18" fill="#129c86" />
<rect x="76" y="592" width="2" height="18" fill="#aadfd4" />
<rect x="79" y="594" width="2" height="16" fill="#aadfd4" />
<rect x="82" y="597" width="2" height="13" fill="#aadfd4" />
<rect x="85" y="600" width="2" height="10" fill="#aadfd4" />
<rect x="88" y="605" width="2" height="5" fill="#aadfd4" />
<rect x="91" y="609" width="2" height="5" fill="#ff5252" />
<rect x="94" y="609" width="2" height="10" fill="#ff5252" />
<rect x="97" y="609" width="2" height="13" fill="#ff5252" />
<rect x="100" y="609" width="2" height="13" fill="#ffcdd2" />
<rect x="103" y="609" width="2" height="13" fill="#ff5252" />
<rect x="107" y="609" width="2" height="15" fill="#ff5252" />
<rect x="110" y="609" width="2" height="12" fill="#ffcdd2" />
<rect x="113" y="609" width="2" height="9" fill="#ffcdd2" />
<rect x="116" y="609" width="2" height="5" fill="#ffcdd2" />
<rect x="119" y="609" width="2" height="2" fill="#ffcdd2" />
<rect x="122" y="609" width="2" height="3" fill="#ff5252" />
<rect x="125" y="609" width="2" height="1" fill="#129c86" />
<rect x="128" y="603" width="2" height="7" fill="#129c86" />
<rect x="131" y="600" width="2" height="10" fill="#129c86" />
<rect x="134" y="601" width="2" height="9" fill="#aadfd4" />
<rect x="137" y="602" width="2" height="8" fill="#aadfd4" />
<rect x="140" y="599" width="2" height="11" fill="#129c86" />
<rect x="144" y="600" width="2" height="10" fill="#aadfd4" />
<rect x="147" y="601" width="2" height="9" fill="#aadfd4" />
<rect x="150" y="604" width="2" height="6" fill="#aadfd4" />
<rect x="153" y="608" width="2" height="2" fill="#aadfd4" />
<rect x="156" y="608" width="2" height="2" fill="#aadfd4" />
<rect x="159" y="607" width="2" height="3" fill="#129c86" />
<rect x="162" y="609" width="2" height="4" fill="#ff5252" />
<rect x="165" y="609" width="2" height="7" fill="#ff5252" />
<rect x="168" y="609" width="2" height="9" fill="#ff5252" />
<rect x="171" y="609" width="2" height="9" fill="#ff5252" />
<rect x="174" y="609" width="2" height="10" fill="#ff5252" />
<rect x="177" y="609" width="2" height="4" fill="#ffcdd2" />
<rect x="181" y="609" width="2" height="1" fill="#ffcdd2" />
<rect x="184" y="609" width="2" height="3" fill="#ff5252" />
<rect x="187" y="609" width="2" height="3" fill="#ffcdd2" />
<rect x="190" y="609" width="2" height="3" fill="#ffcdd2" />
<rect x="193" y="609" width="2" height="2" fill="#ffcdd2" />
<rect x="196" y="609" width="2" height="4" fill="#ff5252" />
<rect x="199" y="609" width="2" height="7" fill="#ff5252" />
<rect x="202" y="609" width="2" height="7" fill="#ff5252" />
<rect x="205" y="609" width="2" height="8" fill="#ff5252" />
<rect x="208" y="609" width="2" height="9" fill="#ff5252" />
<rect x="211" y="609" width="2" height="9" fill="#ff5252" />
<rect x="214" y="609" width="2" height="5" fill="#ffcdd2" />
<rect x="218" y="609" width="2" height="2" fill="#ffcdd2" />
<rect x="221" y="609" width="2" height="1" fill="#129c86" />
<rect x="224" y="607" width="2" height="3" fill="#129c86" />
<rect x="227" y="609" width="2" height="1" fill="#aadfd4" />
<rect x="230" y="609" width="2" height="1" fill="#ff5252" />
<rect x="233" y="607" width="2" height="3" fill="#129c86" />
<rect x="236" y="606" width="2" height="4" fill="#129c86" />
<rect x="239" y="602" width="2" height="8" fill="#129c86" />
<rect x="242" y="598" width="2" height="12" fill="#129c86" />
<rect x="245" y="595" width="2" height="15" fill="#129c86" />
<rect x="248" y="594" width="2" height="16" fill="#129c86" />
<rect x="251" y="602" width="2" height="8" fill="#aadfd4" />
<rect x="254" y="603" width="2" height="7" fill="#aadfd4" />
<rect x="258" y="605" width="2" height="5" fill="#aadfd4" />
<rect x="261" y="607" width="2" height="3" fill="#aadfd4" />
<rect x="264" y="609" width="2" height="1" fill="#ff5252" />
<rect x="267" y="609" width="2" height="4" fill="#ff5252" />
<rect x="270" y="609" width="2" height="6" fill="#ff5252" />
<rect x="273" y="609" width="2" height="8" fill="#ff5252" />
<rect x="276" y="609" width="2" height="5" fill="#ffcdd2" />
<rect x="279" y="609" width="2" height="5" fill="#ffcdd2" />
<rect x="282" y="609" width="2" height="4" fill="#ffcdd2" />
<rect x="285" y="609" width="2" height="4" fill="#ff5252" />
<rect x="288" y="609" width="2" height="6" fill="#ff5252" />
<rect x="291" y="609" width="2" height="2" fill="#ffcdd2" />
<rect x="295" y="609" width="2" height="1" fill="#129c86" />
<rect x="298" y="609" width="2" height="1" fill="#ff5252" />
<rect x="301" y="609" width="2" height="1" fill="#129c86" />
<rect x="304" y="609" width="2" height="1" fill="#129c86" />
<rect x="307" y="606" width="2" height="4" fill="#129c86" />
<rect x="310" y="604" width="2" height="6" fill="#129c86" />
<rect x="313" y="605" width="2" height="5" fill="#aadfd4" />
<rect x="316" y="607" width="2" height="3" fill="#aadfd4" />
<rect x="319" y="608" width="2" height="2" fill="#aadfd4" />
<rect x="322" y="608" width="2" height="2" fill="#aadfd4" />
<rect x="325" y="607" width="2" height="3" fill="#129c86" />
<rect x="328" y="605" width="2" height="5" fill="#129c86" />
<rect x="332" y="605" width="2" height="5" fill="#aadfd4" />
<rect x="335" y="604" width="2" height="6" fill="#129c86" />
<rect x="338" y="605" width="2" height="5" fill="#aadfd4" />
<rect x="341" y="606" width="2" height="4" fill="#aadfd4" />
<rect x="344" y="607" width="2" height="3" fill="#aadfd4" />
<rect x="347" y="609" width="2" height="1" fill="#ff5252" />
<rect x="350" y="609" width="2" height="2" fill="#ff5252" />
<rect x="353" y="609" width="2" height="4" fill="#ff5252" />
<rect x="356" y="609" width="2" height="3" fill="#ffcdd2" />
<rect x="359" y="609" width="2" height="4" fill="#ff5252" />
<rect x="362" y="609" width="2" height="3" fill="#ffcdd2" />
<rect x="365" y="609" width="2" height="12" fill="#ff5252" />
<rect x="369" y="609" width="2" height="17" fill="#ff5252" />
<rect x="372" y="609" width="2" height="16" fill="#ffcdd2" />
<rect x="375" y="609" width="2" height="16" fill="#ff5252" />
<rect x="378" y="609" width="2" height="16" fill="#ffcdd2" />
<rect x="381" y="609" width="2" height="9" fill="#ffcdd2" />
<rect x="384" y="609" width="2" height="6" fill="#ffcdd2" />
<rect x="387" y="609" width="2" height="1" fill="#ffcdd2" />
<rect x="390" y="609" width="2" height="1" fill="#129c86" />
<rect x="393" y="607" width="2" height="3" fill="#129c86" />
<rect x="396" y="607" width="2" height="3" fill="#129c86" />
<rect x="399" y="606" width="2" height="4" fill="#129c86" />
<rect x="402" y="605" width="2" height="5" fill="#129c86" />
<rect x="406" y="607" width="2" height="3" fill="#aadfd4" />
<rect x="409" y="609" width="2" height="10" fill="#ff5252" />
<rect x="412" y="609" width="2" height="17" fill="#ff5252" />
<rect x="415" y="609" width="2" height="16" fill="#ffcdd2" />
<rect x="418" y="609" width="2" height="16" fill="#ffcdd2" />
<rect x="421" y="609" width="2" height="13" fill="#ffcdd2" />
<rect x="424" y="609" width="2" height="9" fill="#ffcdd2" />
<rect x="427" y="609" width="2" height="4" fill="#ffcdd2" />
<rect x="430" y="609" width="2" height="1" fill="#ffcdd2" />
<rect x="433" y="608" width="2" height="2" fill="#129c86" />
<rect x="436" y="603" width="2" height="7" fill="#129c86" />
<rect x="439" y="599" width="2" height="11" fill="#129c86" />
<rect x="442" y="597" width="2" height="13" fill="#129c86" />
<rect x="446" y="599" width="2" height="11" fill="#aadfd4" />
<rect x="449" y="602" width="2" height="8" fill="#aadfd4" />
<rect x="452" y="603" width="2" height="7" fill="#aadfd4" />
<rect x="455" y="608" width="2" height="2" fill="#aadfd4" />
<rect x="458" y="609" width="2" height="2" fill="#ff5252" />
<rect x="461" y="609" width="2" height="6" fill="#ff5252" />
<rect x="464" y="609" width="2" height="5" fill="#ffcdd2" />
<rect x="467" y="609" width="2" height="3" fill="#ffcdd2" />
<rect x="470" y="609" width="2" height="1" fill="#ffcdd2" />
<rect x="473" y="607" width="2" height="3" fill="#129c86" />
<rect x="476" y="609" width="2" height="4" fill="#ff5252" />
<rect x="479" y="609" width="2" height="5" fill="#ff5252" />
<rect x="483" y="609" width="2" height="4" fill="#ffcdd2" />
<rect x="486" y="609" width="2" height="4" fill="#ffcdd2" />
<rect x="489" y="609" width="2" height="2" fill="#ffcdd2" />
<rect x="492" y="609" width="2" height="4" fill="#ff5252" />
<rect x="495" y="609" width="2" height="4" fill="#ff5252" />
<rect x="498" y="609" width="2" height="2" fill="#ffcdd2" />
<rect x="501" y="608" width="2" height="2" fill="#129c86" />
<rect x="504" y="606" width="2" height="4" fill="#129c86" />
<rect x="507" y="605" width="2" height="5" fill="#129c86" />
<rect x="510" y="603" width="2" height="7" fill="#129c86" />
<rect x="513" y="608" width="2" height="2" fill="#aadfd4" />
<rect x="516" y="609" width="2" height="8" fill="#ff5252" />
<rect x="520" y="609" width="2" height="12" fill="#ff5252" />
<rect x="523" y="609" width="2" height="9" fill="#ffcdd2" />
<rect x="526" y="609" width="2" height="4" fill="#ffcdd2" />
<rect x="529" y="604" width="2" height="6" fill="#129c86" />
<rect x="532" y="595" width="2" height="15" fill="#129c86" />
<rect x="535" y="603" width="2" height="7" fill="#aadfd4" />
<rect x="538" y="609" width="2" height="1" fill="#ff5252" />
<rect x="541" y="609" width="2" height="7" fill="#ff5252" />
<rect x="544" y="609" width="2" height="10" fill="#ff5252" />
<rect x="547" y="609" width="2" height="12" fill="#ff5252" />
<rect x="550" y="609" width="2" height="11" fill="#ffcdd2" />
<rect x="553" y="609" width="2" height="7" fill="#ffcdd2" />
<rect x="557" y="609" width="2" height="4" fill="#ffcdd2" />
<rect x="560" y="609" width="2" height="1" fill="#129c86" />
<rect x="563" y="609" width="2" height="2" fill="#ff5252" />
<rect x="566" y="603" width="2" height="7" fill="#129c86" />
<rect x="569" y="601" width="2" height="9" fill="#129c86" />
<rect x="572" y="604" width="2" height="6" fill="#aadfd4" />
<rect x="575" y="608" width="2" height="2" fill="#aadfd4" />
<rect x="578" y="609" width="2" height="1" fill="#aadfd4" />
<rect x="581" y="605" width="2" height="5" fill="#129c86" />
<rect x="584" y="604" width="2" height="6" fill="#129c86" />
<rect x="587" y="605" width="2" height="5" fill="#aadfd4" />
<rect x="590" y="607" width="2" height="3" fill="#aadfd4" />
<rect x="593" y="607" width="2" height="3" fill="#aadfd4" />
<rect x="597" y="609" width="2" height="10" fill="#ff5252" />
<rect x="600" y="609" width="2" height="11" fill="#ff5252" />
<rect x="603" y="609" width="2" height="3" fill="#ffcdd2" />
<rect x="606" y="606" width="2" height="4" fill="#129c86" />
<rect x="609" y="603" width="2" height="7" fill="#129c86" />
<rect x="612" y="605" width="2" height="5" fill="#aadfd4" />
<rect x="615" y="601" width="2" height="9" fill="#129c86" />
<rect x="618" y="599" width="2" height="11" fill="#129c86" />
<rect x="621" y="598" width="2" height="12" fill="#129c86" />
<rect x="624" y="598" width="2" height="12" fill="#aadfd4" />
<rect x="627" y="595" width="2" height="15" fill="#129c86" />
<rect x="630" y="595" width="2" height="15" fill="#aadfd4" />
<rect x="634" y="599" width="2" height="11" fill="#aadfd4" />
<rect x="637" y="601" width="2" height="9" fill="#aadfd4" />
<rect x="640" y="599" width="2" height="11" fill="#129c86" />
<rect x="643" y="596" width="2" height="14" fill="#129c86" />
<rect x="646" y="592" width="2" height="18" fill="#129c86" />
<rect x="649" y="592" width="2" height="18" fill="#aadfd4" />
<rect x="652" y="592" width="2" height="18" fill="#129c86" />
<rect x="655" y="594" width="2" height="16" fill="#aadfd4" />
<rect x="658" y="598" width="2" height="12" fill="#aadfd4" />
<rect x="661" y="606" width="2" height="4" fill="#aadfd4" />
<rect x="664" y="609" width="2" height="3" fill="#ff5252" />
<rect x="667" y="609" width="2" height="7" fill="#ff5252" />
<rect x="671" y="609" width="2" height="12" fill="#ff5252" />
<rect x="674" y="609" width="2" height="14" fill="#ff5252" />
<rect x="677" y="609" width="2" height="17" fill="#ff5252" />
<rect x="680" y="609" width="2" height="28" fill="#ff5252" />
<rect x="683" y="609" width="2" height="22" fill="#ffcdd2" />
<rect x="686" y="609" width="2" height="18" fill="#ffcdd2" />
<rect x="689" y="609" width="2" height="13" fill="#ffcdd2" />
<rect x="692" y="609" width="2" height="8" fill="#ffcdd2" />
<rect x="695" y="609" width="2" height="4" fill="#ffcdd2" />
<rect x="698" y="605" width="2" height="5" fill="#129c86" />
<rect x="701" y="599" width="2" height="11" fill="#129c86" />
<rect x="704" y="598" width="2" height="12" fill="#129c86" />
<rect x="708" y="597" width="2" height="13" fill="#129c86" />
<rect x="711" y="596" width="2" height="14" fill="#129c86" />
<rect x="714" y="603" width="2" height="7" fill="#aadfd4" />
<rect x="717" y="609" width="2" height="1" fill="#ff5252" />
<rect x="720" y="609" width="2" height="4" fill="#ff5252" />
<rect x="723" y="609" width="2" height="6" fill="#ff5252" />
<rect x="726" y="609" width="2" height="8" fill="#ff5252" />
<rect x="729" y="609" width="2" height="8" fill="#ff5252" />
<rect x="732" y="609" width="2" height="11" fill="#ff5252" />
<rect x="735" y="609" width="2" height="13" fill="#ff5252" />
<rect x="738" y="609" width="2" height="18" fill="#ff5252" />
<rect x="741" y="609" width="2" height="22" fill="#ff5252" />
<rect x="745" y="609" width="2" height="20" fill="#ffcdd2" />
<rect x="748" y="609" width="2" height="16" fill="#ffcdd2" />
<rect x="751" y="609" width="2" height="16" fill="#ff5252" />
<rect x="754" y="609" width="2" height="13" fill="#ffcdd2" />
<rect x="757" y="609" width="2" height="10" fill="#ffcdd2" />
<rect x="760" y="609" width="2" height="6" fill="#ffcdd2" />
<rect x="763" y="609" width="2" height="2" fill="#ffcdd2" />
<rect x="766" y="608" width="2" height="2" fill="#129c86" />
<rect x="769" y="604" width="2" height="6" fill="#129c86" />
<rect x="772" y="599" width="2" height="11" fill="#129c86" />
<rect x="775" y="599" width="2" height="11" fill="#129c86" />
<rect x="778" y="598" width="2" height="12" fill="#129c86" />
<rect x="781" y="599" width="2" height="11" fill="#aadfd4" />
<rect x="785" y="600" width="2" height="10" fill="#aadfd4" />
<rect x="788" y="597" width="2" height="13" fill="#129c86" />
<rect x="791" y="597" width="2" height="13" fill="#129c86" />
<rect x="794" y="595" width="2" height="15" fill="#129c86" />
<rect x="797" y="594" width="2" height="16" fill="#129c86" />
<rect x="800" y="595" width="2" height="15" fill="#aadfd4" />
<rect x="803" y="598" width="2" height="12" fill="#aadfd4" />
<rect x="806" y="597" width="2" height="13" fill="#129c86" />
<rect x="809" y="596" width="2" height="14" fill="#129c86" />
<rect x="812" y="595" width="2" height="15" fill="#129c86" />
<rect x="815" y="595" width="2" height="15" fill="#aadfd4" />
<rect x="818" y="598" width="2" height="12" fill="#aadfd4" />
<rect x="822" y="601" width="2" height="9" fill="#aadfd4" />
<rect x="825" y="600" width="2" height="10" fill="#129c86" />
</g>
<polyline points="0.3,594.4 3.3,592.4 6.3,590.9 9.3,591.4 12.3,591.5 15.3,592.6 18.3,590.8 21.3,590.5 24.3,592.9 27.3,597.4 31.3,598.6 34.3,598.7 37.3,605.1 40.3,609.6 43.3,611.0 46.3,611.4 49.3,608.2 52.3,603.2 55.3,599.3 58.3,597.0 61.3,598.3 64.3,599.7 67.3,595.3 71.3,582.6 74.3,569.5 77.3,563.1 80.3,558.9 83.3,556.8 86.3,556.1 89.3,559.2 92.3,570.1 95.3,578.8 98.3,587.0 101.3,591.9 104.3,597.2 108.3,605.1 111.3,606.3 114.3,607.1 117.3,604.1 120.3,601.5 123.3,604.5 126.3,601.0 129.3,591.8 132.3,584.7 135.3,583.4 138.3,581.0 141.3,573.9 145.3,570.5 148.3,568.8 151.3,569.1 154.3,572.1 157.3,572.0 160.3,569.3 163.3,576.6 166.3,583.2 169.3,587.7 172.3,591.5 175.3,595.6 178.3,592.2 182.3,589.2 185.3,591.8 188.3,592.7 191.3,593.5 194.3,593.2 197.3,596.1 200.3,601.7 203.3,604.8 206.3,608.7 209.3,612.5 212.3,615.8 215.3,613.7 219.3,611.7 222.3,608.9 225.3,606.8 228.3,608.4 231.3,608.9 234.3,605.2 237.3,603.5 240.3,596.4 243.3,587.3 246.3,579.1 249.3,572.0 252.3,576.5 255.3,575.1 259.3,575.1 262.3,575.6 265.3,579.9 268.3,583.3 271.3,587.3 274.3,592.3 277.3,591.5 280.3,593.3 283.3,593.1 286.3,595.1 289.3,599.0 292.3,595.7 296.3,593.9 299.3,594.3 302.3,593.9 305.3,593.0 308.3,589.6 311.3,585.3 314.3,584.4 317.3,585.3 320.3,585.5 323.3,585.6 326.3,583.2 329.3,579.5 333.3,577.9 336.3,574.6 339.3,573.5 342.3,573.3 345.3,573.7 348.3,576.6 351.3,578.6 354.3,581.1 357.3,581.5 360.3,583.4 363.3,583.2 366.3,597.4 370.3,608.2 373.3,613.2 376.3,620.4 379.3,626.4 382.3,623.3 385.3,622.0 388.3,617.6 391.3,616.1 394.3,613.4 397.3,611.7 400.3,609.4 403.3,607.3 407.3,607.9 410.3,623.2 413.3,637.2 416.3,642.7 419.3,649.0 422.3,650.2 425.3,650.0 428.3,646.8 431.3,643.3 434.3,641.3 437.3,633.5 440.3,625.0 443.3,618.8 447.3,616.5 450.3,615.9 453.3,614.5 456.3,618.5 459.3,622.3 462.3,628.5 465.3,629.5 468.3,628.0 471.3,626.3 474.3,622.9 477.3,630.5 480.3,632.8 484.3,632.9 487.3,634.0 490.3,633.2 493.3,636.1 496.3,637.5 499.3,635.9 502.3,632.7 505.3,629.7 508.3,627.1 511.3,622.8 514.3,627.2 517.3,638.5 521.3,647.1 524.3,647.8 527.3,643.7 530.3,633.4 533.3,618.1 536.3,623.9 539.3,630.7 542.3,638.9 545.3,645.6 548.3,651.9 551.3,655.7 554.3,653.8 558.3,651.8 561.3,647.9 564.3,650.5 567.3,640.1 570.3,635.2 573.3,636.3 576.3,638.6 579.3,639.4 582.3,633.7 585.3,630.3 588.3,630.2 591.3,630.7 594.3,630.0 598.3,646.2 601.3,650.5 604.3,643.8 607.3,636.2 610.3,631.4 613.3,630.6 616.3,624.1 619.3,617.8 622.3,612.5 625.3,608.1 628.3,598.2 631.3,593.6 635.3,592.4 638.3,590.7 641.3,584.4 644.3,577.0 647.3,565.5 650.3,558.9 653.3,551.6 656.3,547.1 659.3,547.4 662.3,553.7 665.3,560.5 668.3,567.8 672.3,576.5 675.3,584.6 678.3,594.0 681.3,615.3 684.3,619.0 687.3,621.0 690.3,621.2 693.3,618.9 696.3,617.0 699.3,607.6 702.3,597.6 705.3,591.8 709.3,585.0 712.3,579.5 715.3,584.0 718.3,591.4 721.3,596.0 724.3,600.3 727.3,604.9 730.3,608.2 733.3,615.3 736.3,622.7 739.3,634.7 742.3,647.2 746.3,652.3 749.3,654.5 752.3,661.1 755.3,662.4 758.3,663.7 761.3,662.4 764.3,659.3 767.3,655.5 770.3,648.8 773.3,640.0 776.3,635.1 779.3,630.6 782.3,626.4 786.3,624.0 789.3,616.3 792.3,610.9 795.3,602.6 798.3,595.7 801.3,591.2 804.3,589.3 807.3,583.6 810.3,577.5 813.3,569.9 816.3,565.0 819.3,562.7 823.3,562.6 826.3,558.1" fill="none" stroke="#2196f3" stroke-width="1.15" stroke-linejoin="round" stroke-linecap="round"/>
<polyline points="0.3,592.5 3.3,592.5 6.3,592.0 9.3,591.8 12.3,591.7 15.3,592.0 18.3,591.6 21.3,591.3 24.3,591.8 27.3,593.4 31.3,594.9 34.3,596.0 37.3,598.6 40.3,601.7 43.3,604.4 46.3,606.4 49.3,606.9 52.3,605.9 55.3,604.0 58.3,602.0 61.3,600.9 64.3,600.6 67.3,599.1 71.3,594.4 74.3,587.2 77.3,580.3 80.3,574.2 83.3,569.2 86.3,565.5 89.3,563.7 92.3,565.5 95.3,569.3 98.3,574.4 101.3,579.4 104.3,584.5 108.3,590.4 111.3,594.9 114.3,598.4 117.3,600.0 120.3,600.4 123.3,601.6 126.3,601.4 129.3,598.7 132.3,594.7 135.3,591.5 138.3,588.5 141.3,584.3 145.3,580.4 148.3,577.1 151.3,574.8 154.3,574.0 157.3,573.5 160.3,572.3 163.3,573.5 166.3,576.3 169.3,579.6 172.3,583.0 175.3,586.6 178.3,588.2 182.3,588.4 185.3,589.4 188.3,590.4 191.3,591.3 194.3,591.8 197.3,593.0 200.3,595.5 203.3,598.1 206.3,601.2 209.3,604.4 212.3,607.7 215.3,609.4 219.3,610.1 222.3,609.7 225.3,608.9 228.3,608.8 231.3,608.8 234.3,607.8 237.3,606.5 240.3,603.7 243.3,599.0 246.3,593.3 249.3,587.2 252.3,584.2 255.3,581.6 259.3,579.7 262.3,578.6 265.3,578.9 268.3,580.2 271.3,582.2 274.3,585.1 277.3,586.9 280.3,588.7 283.3,590.0 286.3,591.4 289.3,593.6 292.3,594.2 296.3,594.1 299.3,594.2 302.3,594.1 305.3,593.8 308.3,592.6 311.3,590.5 314.3,588.7 317.3,587.8 320.3,587.1 323.3,586.7 326.3,585.7 329.3,583.9 333.3,582.2 336.3,580.0 339.3,578.2 342.3,576.8 345.3,575.9 348.3,576.1 351.3,576.8 354.3,578.0 357.3,579.0 360.3,580.3 363.3,581.1 366.3,585.8 370.3,592.2 373.3,598.2 376.3,604.5 379.3,610.8 382.3,614.4 385.3,616.5 388.3,616.9 391.3,616.6 394.3,615.7 397.3,614.6 400.3,613.1 403.3,611.4 407.3,610.4 410.3,614.1 413.3,620.7 416.3,627.0 419.3,633.3 422.3,638.1 425.3,641.5 428.3,643.0 431.3,643.1 434.3,642.6 437.3,640.0 440.3,635.7 443.3,630.9 447.3,626.8 450.3,623.7 453.3,621.0 456.3,620.3 459.3,620.9 462.3,623.1 465.3,624.9 468.3,625.8 471.3,626.0 474.3,625.1 477.3,626.6 480.3,628.4 484.3,629.7 487.3,630.9 490.3,631.6 493.3,632.9 496.3,634.2 499.3,634.7 502.3,634.1 505.3,632.9 508.3,631.2 511.3,628.8 514.3,628.3 517.3,631.2 521.3,635.8 524.3,639.2 527.3,640.5 530.3,638.5 533.3,632.7 536.3,630.1 539.3,630.3 542.3,632.8 545.3,636.4 548.3,640.8 551.3,645.1 554.3,647.6 558.3,648.8 561.3,648.5 564.3,649.1 567.3,646.5 570.3,643.3 573.3,641.3 576.3,640.5 579.3,640.2 582.3,638.3 585.3,636.1 588.3,634.4 591.3,633.3 594.3,632.4 598.3,636.3 601.3,640.4 604.3,641.4 607.3,639.9 610.3,637.5 613.3,635.5 616.3,632.3 619.3,628.1 622.3,623.6 625.3,619.2 628.3,613.2 631.3,607.6 635.3,603.3 638.3,599.7 641.3,595.3 644.3,590.1 647.3,583.1 650.3,576.2 653.3,569.1 656.3,562.8 659.3,558.4 662.3,557.1 665.3,558.0 668.3,560.8 672.3,565.3 675.3,570.8 678.3,577.4 681.3,588.3 684.3,597.0 687.3,603.9 690.3,608.9 693.3,611.7 696.3,613.2 699.3,611.6 702.3,607.6 705.3,603.1 709.3,597.9 712.3,592.7 715.3,590.2 718.3,590.5 721.3,592.1 724.3,594.5 727.3,597.4 730.3,600.5 733.3,604.7 736.3,609.9 739.3,617.0 742.3,625.6 746.3,633.2 749.3,639.3 752.3,645.5 755.3,650.3 758.3,654.2 761.3,656.5 764.3,657.3 767.3,656.8 770.3,654.5 773.3,650.4 776.3,646.0 779.3,641.6 782.3,637.2 786.3,633.5 789.3,628.6 792.3,623.5 795.3,617.6 798.3,611.3 801.3,605.6 804.3,600.9 807.3,596.0 810.3,590.7 813.3,584.8 816.3,579.1 819.3,574.4 823.3,571.0 826.3,567.3" fill="none" stroke="#ff6d00" stroke-width="1.15" stroke-linejoin="round" stroke-linecap="round"/>
<rect x="0" y="531" width="1063" height="1" fill="#e0e3eb" shape-rendering="crispEdges"/>
<g font-family="Liberation Sans, sans-serif">
<text x="1005.4" y="10.7" font-size="14" fill="#131722" font-weight="normal" text-anchor="start" textLength="48.6" lengthAdjust="spacingAndGlyphs" >5160.00</text>
<text x="1005.4" y="65.7" font-size="14" fill="#131722" font-weight="normal" text-anchor="start" textLength="48.6" lengthAdjust="spacingAndGlyphs" >5120.00</text>
<text x="1005.4" y="121.7" font-size="14" fill="#131722" font-weight="normal" text-anchor="start" textLength="48.6" lengthAdjust="spacingAndGlyphs" >5080.00</text>
<text x="1005.4" y="231.7" font-size="14" fill="#131722" font-weight="normal" text-anchor="start" textLength="48.6" lengthAdjust="spacingAndGlyphs" >5000.00</text>
<text x="1005.4" y="286.7" font-size="14" fill="#131722" font-weight="normal" text-anchor="start" textLength="48.6" lengthAdjust="spacingAndGlyphs" >4960.00</text>
<text x="1005.4" y="341.5" font-size="14" fill="#131722" font-weight="normal" text-anchor="start" textLength="48.6" lengthAdjust="spacingAndGlyphs" >4920.00</text>
<text x="1005.4" y="396.7" font-size="14" fill="#131722" font-weight="normal" text-anchor="start" textLength="48.6" lengthAdjust="spacingAndGlyphs" >4880.00</text>
<text x="1005.4" y="452.7" font-size="14" fill="#131722" font-weight="normal" text-anchor="start" textLength="48.6" lengthAdjust="spacingAndGlyphs" >4840.00</text>
<text x="1005.4" y="507.7" font-size="14" fill="#131722" font-weight="normal" text-anchor="start" textLength="48.6" lengthAdjust="spacingAndGlyphs" >4800.00</text>
<text x="1005.4" y="613.7" font-size="14" fill="#131722" font-weight="normal" text-anchor="start" textLength="26.2" lengthAdjust="spacingAndGlyphs" >0.00</text>
<text x="1005.6" y="661.5" font-size="14" fill="#131722" font-weight="normal" text-anchor="start" textLength="41.5" lengthAdjust="spacingAndGlyphs" >−20.00</text>
<clipPath id="cp"><rect x="0" y="0" width="994" height="531"/></clipPath>
<text x="948.1" y="507.6" font-size="12.3" fill="#4caf50" font-weight="normal" text-anchor="start" textLength="45.8" lengthAdjust="spacingAndGlyphs" >0.786(47</text>
<path d="M996,57.5 H1060 Q1062,57.5 1062,59.5 V75.5 Q1062,77.5 1060,77.5 H996 Q994,77.5 994,75.5 V59.5 Q994,57.5 996,57.5 Z" fill="#f23645"/>
<text x="1005" y="72.5" font-size="14" fill="#ffffff" font-weight="bold" text-anchor="start" textLength="49.3" lengthAdjust="spacingAndGlyphs" >5115.88</text>
<path d="M996,151.3 H1060 Q1062,151.3 1062,153.3 V171.3 Q1062,171.3 1062,171.3 H994 Q994,171.3 994,171.3 V153.3 Q994,151.3 996,151.3 Z" fill="#f23645"/>
<text x="1005" y="166.3" font-size="14" fill="#ffffff" font-weight="bold" text-anchor="start" textLength="49.3" lengthAdjust="spacingAndGlyphs" >5037.18</text>
<path d="M994,171.3 H1062 Q1062,171.3 1062,171.3 V190 Q1062,192 1060,192 H996 Q994,192 994,190 V171.3 Q994,171.3 994,171.3 Z" fill="#089981"/>
<text x="1005" y="186.65" font-size="14" fill="#ffffff" font-weight="bold" text-anchor="start" textLength="49.3" lengthAdjust="spacingAndGlyphs" >5033.26</text>
<path d="M996,228 H1060 Q1062,228 1062,230 V248.7 Q1062,248.7 1062,248.7 H994 Q994,248.7 994,248.7 V230 Q994,228 996,228 Z" fill="#e91e63"/>
<text x="1005" y="243.35" font-size="14" fill="#ffffff" font-weight="bold" text-anchor="start" textLength="49.3" lengthAdjust="spacingAndGlyphs" >4992.09</text>
<path d="M994,248.7 H1062 Q1062,248.7 1062,248.7 V266.9 Q1062,268.9 1060,268.9 H996 Q994,268.9 994,266.9 V248.7 Q994,248.7 994,248.7 Z" fill="#9c27b0"/>
<text x="1005" y="263.8" font-size="14" fill="#ffffff" font-weight="bold" text-anchor="start" textLength="49.3" lengthAdjust="spacingAndGlyphs" >4978.67</text>
<path d="M996,354.5 H1060 Q1062,354.5 1062,356.5 V372.5 Q1062,374.5 1060,374.5 H996 Q994,374.5 994,372.5 V356.5 Q994,354.5 996,354.5 Z" fill="#4caf50"/>
<text x="1005" y="369.5" font-size="14" fill="#ffffff" font-weight="bold" text-anchor="start" textLength="49.3" lengthAdjust="spacingAndGlyphs" >4900.37</text>
<path d="M996,421.5 H1060 Q1062,421.5 1062,423.5 V439.5 Q1062,441.5 1060,441.5 H996 Q994,441.5 994,439.5 V423.5 Q994,421.5 996,421.5 Z" fill="#4caf50"/>
<text x="1005" y="436.5" font-size="14" fill="#ffffff" font-weight="bold" text-anchor="start" textLength="49.3" lengthAdjust="spacingAndGlyphs" >4852.21</text>
<path d="M996,537.3 H1045 Q1047,537.3 1047,539.3 V557.3 Q1047,557.3 1047,557.3 H994 Q994,557.3 994,557.3 V539.3 Q994,537.3 996,537.3 Z" fill="#2196f3"/>
<text x="1005" y="552.3" font-size="14" fill="#ffffff" font-weight="bold" text-anchor="start" textLength="34" lengthAdjust="spacingAndGlyphs" >21.55</text>
<path d="M994,557.3 H1047 Q1047,557.3 1047,557.3 V575.4 Q1047,577.4 1045,577.4 H996 Q994,577.4 994,575.4 V557.3 Q994,557.3 994,557.3 Z" fill="#ff6d00"/>
<text x="1005" y="572.35" font-size="14" fill="#ffffff" font-weight="bold" text-anchor="start" textLength="34" lengthAdjust="spacingAndGlyphs" >17.67</text>
<path d="M996,590.8 H1037.8 Q1039.8,590.8 1039.8,592.8 V608.6 Q1039.8,610.6 1037.8,610.6 H996 Q994,610.6 994,608.6 V592.8 Q994,590.8 996,590.8 Z" fill="#26a69a"/>
<text x="1005" y="605.7" font-size="14" fill="#ffffff" font-weight="bold" text-anchor="start" textLength="26.5" lengthAdjust="spacingAndGlyphs" >3.88</text>
<text x="80.5" y="695.5" font-size="13" fill="#131722" font-weight="normal" text-anchor="middle" >8</text>
<text x="172.5" y="695.5" font-size="13" fill="#131722" font-weight="normal" text-anchor="middle" >15</text>
<text x="265.5" y="695.5" font-size="13" fill="#131722" font-weight="normal" text-anchor="middle" >22</text>
<text x="357.5" y="695.5" font-size="13" fill="#131722" font-weight="bold" text-anchor="middle" >Avr</text>
<text x="450.5" y="695.5" font-size="13" fill="#131722" font-weight="normal" text-anchor="middle" >9</text>
<text x="542.5" y="695.5" font-size="13" fill="#131722" font-weight="normal" text-anchor="middle" >16</text>
<text x="635.5" y="695.5" font-size="13" fill="#131722" font-weight="normal" text-anchor="middle" >23</text>
<text x="746.5" y="695.5" font-size="13" fill="#131722" font-weight="bold" text-anchor="middle" >Mai</text>
<text x="838.5" y="695.5" font-size="13" fill="#131722" font-weight="normal" text-anchor="middle" >9</text>
<text x="930.5" y="695.5" font-size="13" fill="#131722" font-weight="normal" text-anchor="middle" >17</text>
<g stroke="#131722" stroke-width="1.2" fill="none" stroke-linecap="butt"><circle cx="1030.5" cy="692.5" r="4.85" stroke-width="1.0"/>
<line x1="1035.70" y1="692.50" x2="1038.10" y2="692.50"/>
<line x1="1034.18" y1="696.18" x2="1035.87" y2="697.87"/>
<line x1="1030.50" y1="697.70" x2="1030.50" y2="700.10"/>
<line x1="1026.82" y1="696.18" x2="1025.13" y2="697.87"/>
<line x1="1025.30" y1="692.50" x2="1022.90" y2="692.50"/>
<line x1="1026.82" y1="688.82" x2="1025.13" y2="687.13"/>
<line x1="1030.50" y1="687.30" x2="1030.50" y2="684.90"/>
<line x1="1034.18" y1="688.82" x2="1035.87" y2="687.13"/>
</g>
<text x="6.4" y="22.4" font-size="16.4" fill="#131722" font-weight="normal" text-anchor="start" textLength="47.4" lengthAdjust="spacingAndGlyphs" >Euro50</text>
<text x="67" y="22.4" font-size="16.4" fill="#131722" font-weight="normal" text-anchor="start" textLength="16.5" lengthAdjust="spacingAndGlyphs" >4h</text>
<rect x="59.7" y="17" width="2.2" height="2.2" fill="#131722"/>
<circle cx="107.9" cy="16" r="8.9" fill="#daf1ec"/><circle cx="107.9" cy="16" r="4.2" fill="#089981"/>
<text x="133.4" y="22.4" font-size="13.2" fill="#131722" font-weight="normal" text-anchor="start" >O</text>
<text x="143.6" y="22.4" font-size="13.2" fill="#089981" font-weight="normal" text-anchor="start" textLength="44.6" lengthAdjust="spacingAndGlyphs" >5013.25</text>
<text x="194.9" y="22.4" font-size="13.2" fill="#131722" font-weight="normal" text-anchor="start" >H</text>
<text x="204.1" y="22.4" font-size="13.2" fill="#089981" font-weight="normal" text-anchor="start" textLength="45" lengthAdjust="spacingAndGlyphs" >5038.24</text>
<text x="256.3" y="22.4" font-size="13.2" fill="#131722" font-weight="normal" text-anchor="start" >B</text>
<text x="264.2" y="22.4" font-size="13.2" fill="#089981" font-weight="normal" text-anchor="start" textLength="44.4" lengthAdjust="spacingAndGlyphs" >5010.15</text>
<text x="316" y="22.4" font-size="13.2" fill="#131722" font-weight="normal" text-anchor="start" >C</text>
<text x="324.6" y="22.4" font-size="13.2" fill="#089981" font-weight="normal" text-anchor="start" textLength="45.2" lengthAdjust="spacingAndGlyphs" >5033.26</text>
<text x="376" y="22.4" font-size="13.2" fill="#089981" font-weight="normal" text-anchor="start" textLength="38.5" lengthAdjust="spacingAndGlyphs" >+21.52</text>
<text x="420.5" y="22.4" font-size="13.2" fill="#089981" font-weight="normal" text-anchor="start" textLength="47" lengthAdjust="spacingAndGlyphs" >(+0.43%)</text>
<rect x="5.5" y="32.5" width="61" height="37" rx="4" fill="#fff" stroke="#f5535f" stroke-width="1.1"/>
<text x="13.7" y="56.4" font-size="13.2" fill="#f23645" font-weight="normal" text-anchor="start" textLength="44.4" lengthAdjust="spacingAndGlyphs" >5033.26</text>
<rect x="71.2" y="48" width="47.4" height="21.5" rx="4" fill="#f0f3fa"/>
<text x="94.8" y="42.9" font-size="10" fill="#131722" font-weight="normal" text-anchor="middle" >1.3</text>
<text x="94.3" y="63.2" font-size="12.8" fill="#131722" font-weight="normal" text-anchor="middle" textLength="30.5" lengthAdjust="spacingAndGlyphs" >600.1</text>
<rect x="123.5" y="32.5" width="60" height="37" rx="4" fill="#fff" stroke="#22a594" stroke-width="1.1"/>
<text x="131.3" y="56.4" font-size="13.2" fill="#1a9ea0" font-weight="normal" text-anchor="start" textLength="44.9" lengthAdjust="spacingAndGlyphs" >5034.56</text>
<text x="6.6" y="91.2" font-size="13" fill="#1e222d" font-weight="normal" text-anchor="start" textLength="23.1" lengthAdjust="spacingAndGlyphs" >EMA</text>
<text x="33.9" y="91.2" font-size="13" fill="#1e222d" font-weight="normal" text-anchor="start" textLength="12.8" lengthAdjust="spacingAndGlyphs" >13</text>
<text x="51.7" y="91.2" font-size="13" fill="#1e222d" font-weight="normal" text-anchor="start" textLength="28.3" lengthAdjust="spacingAndGlyphs" >close</text>
<text x="85.4" y="91.2" font-size="13" fill="#1e222d" font-weight="normal" text-anchor="start" textLength="6.8" lengthAdjust="spacingAndGlyphs" >0</text>
<text x="96" y="91.2" font-size="13" fill="#1e222d" font-weight="normal" text-anchor="start" textLength="21.6" lengthAdjust="spacingAndGlyphs" >SMA</text>
<text x="121.5" y="91.2" font-size="13" fill="#1e222d" font-weight="normal" text-anchor="start" textLength="6.8" lengthAdjust="spacingAndGlyphs" >9</text>
<text x="143" y="91.2" font-size="13" fill="#e91e63" font-weight="normal" text-anchor="start" textLength="45.1" lengthAdjust="spacingAndGlyphs" >4992.09</text>
<text x="6.6" y="114.7" font-size="13" fill="#1e222d" font-weight="normal" text-anchor="start" textLength="23.1" lengthAdjust="spacingAndGlyphs" >EMA</text>
<text x="33.5" y="114.7" font-size="13" fill="#1e222d" font-weight="normal" text-anchor="start" textLength="13.2" lengthAdjust="spacingAndGlyphs" >21</text>
<text x="51.7" y="114.7" font-size="13" fill="#1e222d" font-weight="normal" text-anchor="start" textLength="28.3" lengthAdjust="spacingAndGlyphs" >close</text>
<text x="85.4" y="114.7" font-size="13" fill="#1e222d" font-weight="normal" text-anchor="start" textLength="6.8" lengthAdjust="spacingAndGlyphs" >0</text>
<text x="96" y="114.7" font-size="13" fill="#1e222d" font-weight="normal" text-anchor="start" textLength="21.6" lengthAdjust="spacingAndGlyphs" >SMA</text>
<text x="121.5" y="114.7" font-size="13" fill="#1e222d" font-weight="normal" text-anchor="start" textLength="6.8" lengthAdjust="spacingAndGlyphs" >9</text>
<text x="143" y="114.7" font-size="13" fill="#9c27b0" font-weight="normal" text-anchor="start" textLength="45.1" lengthAdjust="spacingAndGlyphs" >4978.67</text>
<rect x="6.5" y="124.5" width="28" height="20" rx="3" fill="#fff" stroke="#d1d4dc" stroke-width="1"/>
<polyline points="16.3,136.5 20.5,132.6 24.7,136.5" fill="none" stroke="#131722" stroke-width="1.4"/>
<text x="6.3" y="553.4" font-size="13" fill="#1e222d" font-weight="normal" text-anchor="start" textLength="30.9" lengthAdjust="spacingAndGlyphs" >MACD</text>
<text x="43.2" y="553.4" font-size="13" fill="#1e222d" font-weight="normal" text-anchor="start" textLength="6.1" lengthAdjust="spacingAndGlyphs" >9</text>
<text x="54.9" y="553.4" font-size="13" fill="#1e222d" font-weight="normal" text-anchor="start" textLength="10.7" lengthAdjust="spacingAndGlyphs" >19</text>
<text x="71.1" y="553.4" font-size="13" fill="#1e222d" font-weight="normal" text-anchor="start" textLength="28.2" lengthAdjust="spacingAndGlyphs" >close</text>
<text x="104.3" y="553.4" font-size="13" fill="#1e222d" font-weight="normal" text-anchor="start" textLength="6.4" lengthAdjust="spacingAndGlyphs" >6</text>
<text x="126" y="553.4" font-size="13" fill="#26a69a" font-weight="normal" text-anchor="start" textLength="23.4" lengthAdjust="spacingAndGlyphs" >3.88</text>
<text x="156.9" y="553.4" font-size="13" fill="#2196f3" font-weight="normal" text-anchor="start" textLength="30.5" lengthAdjust="spacingAndGlyphs" >21.55</text>
<text x="195.3" y="553.4" font-size="13" fill="#ff6d00" font-weight="normal" text-anchor="start" textLength="30.4" lengthAdjust="spacingAndGlyphs" >17.67</text>
</g>
</svg>
</body></html>
